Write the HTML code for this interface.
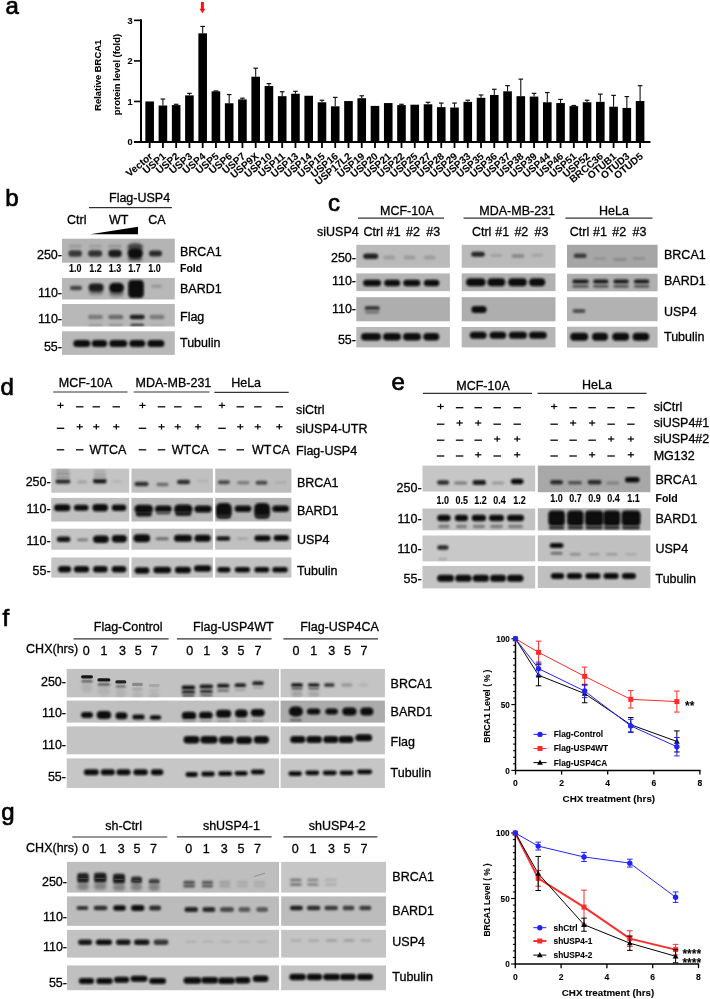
<!DOCTYPE html>
<html><head><meta charset="utf-8"><style>
html,body{margin:0;padding:0;background:#fff;width:710px;height:999px;overflow:hidden}
svg{display:block;will-change:transform}
text{font-family:"Liberation Sans", sans-serif;stroke:#000;stroke-width:0.3px}
text[font-weight="bold"]{stroke-width:0.08px}
</style></head><body>
<svg width="710" height="999" viewBox="0 0 710 999">
<defs><clipPath id="c0"><rect x="62.00" y="238.70" width="112.80" height="24.00"/></clipPath><clipPath id="c1"><rect x="62.00" y="278.00" width="112.80" height="21.50"/></clipPath><clipPath id="c2"><rect x="62.00" y="304.00" width="112.80" height="22.50"/></clipPath><clipPath id="c3"><rect x="62.00" y="331.30" width="112.80" height="23.60"/></clipPath><clipPath id="c4"><rect x="356.30" y="244.80" width="93.60" height="22.90"/></clipPath><clipPath id="c5"><rect x="356.30" y="273.40" width="93.60" height="17.70"/></clipPath><clipPath id="c6"><rect x="356.30" y="297.20" width="93.60" height="24.10"/></clipPath><clipPath id="c7"><rect x="356.30" y="327.00" width="93.60" height="20.40"/></clipPath><clipPath id="c8"><rect x="461.70" y="244.80" width="93.80" height="22.90"/></clipPath><clipPath id="c9"><rect x="461.70" y="273.40" width="93.80" height="17.70"/></clipPath><clipPath id="c10"><rect x="461.70" y="297.20" width="93.80" height="24.10"/></clipPath><clipPath id="c11"><rect x="461.70" y="327.00" width="93.80" height="20.40"/></clipPath><clipPath id="c12"><rect x="567.00" y="244.80" width="90.60" height="22.90"/></clipPath><clipPath id="c13"><rect x="567.00" y="273.80" width="90.60" height="17.50"/></clipPath><clipPath id="c14"><rect x="567.00" y="297.20" width="90.60" height="24.00"/></clipPath><clipPath id="c15"><rect x="567.00" y="326.70" width="90.60" height="20.90"/></clipPath><clipPath id="c16"><rect x="51.30" y="468.60" width="77.90" height="24.10"/></clipPath><clipPath id="c17"><rect x="131.50" y="468.60" width="81.40" height="24.10"/></clipPath><clipPath id="c18"><rect x="215.20" y="468.60" width="76.20" height="24.10"/></clipPath><clipPath id="c19"><rect x="51.30" y="497.90" width="77.90" height="23.60"/></clipPath><clipPath id="c20"><rect x="131.50" y="497.90" width="81.40" height="23.60"/></clipPath><clipPath id="c21"><rect x="215.20" y="497.90" width="76.20" height="23.60"/></clipPath><clipPath id="c22"><rect x="51.30" y="528.70" width="77.90" height="21.00"/></clipPath><clipPath id="c23"><rect x="131.50" y="528.70" width="81.40" height="21.00"/></clipPath><clipPath id="c24"><rect x="215.20" y="528.70" width="76.20" height="21.00"/></clipPath><clipPath id="c25"><rect x="51.30" y="557.40" width="77.90" height="20.20"/></clipPath><clipPath id="c26"><rect x="131.50" y="557.40" width="81.40" height="20.20"/></clipPath><clipPath id="c27"><rect x="215.20" y="557.40" width="76.20" height="20.20"/></clipPath><clipPath id="c28"><rect x="422.50" y="465.60" width="112.70" height="25.90"/></clipPath><clipPath id="c29"><rect x="537.80" y="465.60" width="112.60" height="26.60"/></clipPath><clipPath id="c30"><rect x="422.50" y="508.50" width="112.70" height="21.80"/></clipPath><clipPath id="c31"><rect x="537.80" y="508.20" width="112.60" height="22.30"/></clipPath><clipPath id="c32"><rect x="422.50" y="535.50" width="112.70" height="25.90"/></clipPath><clipPath id="c33"><rect x="537.80" y="535.30" width="112.60" height="26.10"/></clipPath><clipPath id="c34"><rect x="422.50" y="565.90" width="112.70" height="22.50"/></clipPath><clipPath id="c35"><rect x="537.80" y="566.00" width="112.60" height="22.00"/></clipPath><clipPath id="c36"><rect x="66.70" y="668.90" width="212.30" height="28.40"/></clipPath><clipPath id="c37"><rect x="280.60" y="668.90" width="104.30" height="28.40"/></clipPath><clipPath id="c38"><rect x="66.70" y="700.60" width="212.30" height="22.00"/></clipPath><clipPath id="c39"><rect x="280.60" y="700.60" width="104.30" height="22.00"/></clipPath><clipPath id="c40"><rect x="66.70" y="726.40" width="212.30" height="27.90"/></clipPath><clipPath id="c41"><rect x="280.60" y="726.40" width="104.30" height="27.90"/></clipPath><clipPath id="c42"><rect x="66.70" y="758.40" width="212.30" height="29.60"/></clipPath><clipPath id="c43"><rect x="280.60" y="758.40" width="104.30" height="29.60"/></clipPath><clipPath id="c44"><rect x="67.00" y="861.90" width="212.00" height="30.70"/></clipPath><clipPath id="c45"><rect x="281.20" y="861.90" width="104.80" height="30.70"/></clipPath><clipPath id="c46"><rect x="67.00" y="896.40" width="212.00" height="29.40"/></clipPath><clipPath id="c47"><rect x="281.20" y="896.40" width="104.80" height="29.40"/></clipPath><clipPath id="c48"><rect x="67.00" y="929.90" width="212.00" height="27.70"/></clipPath><clipPath id="c49"><rect x="281.20" y="929.90" width="104.80" height="27.70"/></clipPath><clipPath id="c50"><rect x="67.00" y="965.40" width="212.00" height="24.80"/></clipPath><clipPath id="c51"><rect x="281.20" y="965.40" width="104.80" height="24.80"/></clipPath><filter id="f7" x="-30%" y="-60%" width="160%" height="220%"><feGaussianBlur stdDeviation="0.7"/></filter><filter id="f8" x="-30%" y="-60%" width="160%" height="220%"><feGaussianBlur stdDeviation="0.8"/></filter><filter id="f9" x="-30%" y="-60%" width="160%" height="220%"><feGaussianBlur stdDeviation="0.9"/></filter><filter id="f10" x="-30%" y="-60%" width="160%" height="220%"><feGaussianBlur stdDeviation="1.0"/></filter><filter id="f11" x="-30%" y="-60%" width="160%" height="220%"><feGaussianBlur stdDeviation="1.1"/></filter><filter id="f12" x="-30%" y="-60%" width="160%" height="220%"><feGaussianBlur stdDeviation="1.2"/></filter><filter id="f13" x="-30%" y="-60%" width="160%" height="220%"><feGaussianBlur stdDeviation="1.3"/></filter><filter id="f14" x="-30%" y="-60%" width="160%" height="220%"><feGaussianBlur stdDeviation="1.4"/></filter><filter id="f15" x="-30%" y="-60%" width="160%" height="220%"><feGaussianBlur stdDeviation="1.5"/></filter><filter id="f16" x="-30%" y="-60%" width="160%" height="220%"><feGaussianBlur stdDeviation="1.6"/></filter></defs>
<rect width="710" height="999" fill="#fff"/>
<text x="5.6" y="14.2" font-size="24" fill="#000" style="stroke-width:0.7px">a</text>
<text x="5.2" y="206.0" font-size="24" fill="#000" style="stroke-width:0.7px">b</text>
<text x="328.1" y="210.5" font-size="24" fill="#000" style="stroke-width:0.7px">c</text>
<text x="0.6" y="394.8" font-size="24" fill="#000" style="stroke-width:0.7px">d</text>
<text x="391.4" y="390.3" font-size="24" fill="#000" style="stroke-width:0.7px">e</text>
<text x="2.4" y="626.2" font-size="24" fill="#000" style="stroke-width:0.7px">f</text>
<text x="1.2" y="819.8" font-size="24" fill="#000" style="stroke-width:0.7px">g</text>
<line x1="141.00" y1="19.30" x2="141.00" y2="143.00" stroke="#000" stroke-width="2"/>
<line x1="134.00" y1="142.00" x2="650.50" y2="142.00" stroke="#000" stroke-width="2"/>
<line x1="134.00" y1="142.00" x2="141.00" y2="142.00" stroke="#000" stroke-width="1.6"/>
<text x="132.60" y="145.31" font-size="9.2" font-weight="bold" text-anchor="end" fill="#000">0</text>
<line x1="134.00" y1="101.45" x2="141.00" y2="101.45" stroke="#000" stroke-width="1.6"/>
<text x="132.60" y="104.76" font-size="9.2" font-weight="bold" text-anchor="end" fill="#000">1</text>
<line x1="134.00" y1="60.90" x2="141.00" y2="60.90" stroke="#000" stroke-width="1.6"/>
<text x="132.60" y="64.21" font-size="9.2" font-weight="bold" text-anchor="end" fill="#000">2</text>
<line x1="134.00" y1="20.35" x2="141.00" y2="20.35" stroke="#000" stroke-width="1.6"/>
<text x="132.60" y="23.66" font-size="9.2" font-weight="bold" text-anchor="end" fill="#000">3</text>
<rect x="145.35" y="101.45" width="8.60" height="40.55" fill="#000"/>
<line x1="149.65" y1="142.00" x2="149.65" y2="148.00" stroke="#000" stroke-width="1.8"/>
<text x="0" y="0" font-size="10.1" font-weight="bold" text-anchor="end" transform="translate(153.25,157.40) rotate(-40)">Vector</text>
<rect x="158.60" y="105.50" width="8.60" height="36.50" fill="#000"/>
<line x1="162.91" y1="99.02" x2="162.91" y2="105.50" stroke="#111" stroke-width="1.1"/>
<line x1="160.60" y1="99.02" x2="165.21" y2="99.02" stroke="#111" stroke-width="1.2"/>
<line x1="162.91" y1="142.00" x2="162.91" y2="148.00" stroke="#000" stroke-width="1.8"/>
<text x="0" y="0" font-size="10.1" font-weight="bold" text-anchor="end" transform="translate(166.50,157.40) rotate(-40)">USP1</text>
<rect x="171.86" y="105.10" width="8.60" height="36.90" fill="#000"/>
<line x1="176.16" y1="104.29" x2="176.16" y2="105.10" stroke="#111" stroke-width="1.1"/>
<line x1="173.86" y1="104.29" x2="178.46" y2="104.29" stroke="#111" stroke-width="1.2"/>
<line x1="176.16" y1="142.00" x2="176.16" y2="148.00" stroke="#000" stroke-width="1.8"/>
<text x="0" y="0" font-size="10.1" font-weight="bold" text-anchor="end" transform="translate(179.76,157.40) rotate(-40)">USP2</text>
<rect x="185.12" y="95.37" width="8.60" height="46.63" fill="#000"/>
<line x1="189.42" y1="93.34" x2="189.42" y2="95.37" stroke="#111" stroke-width="1.1"/>
<line x1="187.12" y1="93.34" x2="191.72" y2="93.34" stroke="#111" stroke-width="1.2"/>
<line x1="189.42" y1="142.00" x2="189.42" y2="148.00" stroke="#000" stroke-width="1.8"/>
<text x="0" y="0" font-size="10.1" font-weight="bold" text-anchor="end" transform="translate(193.02,157.40) rotate(-40)">USP3</text>
<rect x="198.37" y="33.33" width="8.60" height="108.67" fill="#000"/>
<line x1="202.67" y1="26.43" x2="202.67" y2="33.33" stroke="#111" stroke-width="1.1"/>
<line x1="200.37" y1="26.43" x2="204.97" y2="26.43" stroke="#111" stroke-width="1.2"/>
<line x1="202.67" y1="142.00" x2="202.67" y2="148.00" stroke="#000" stroke-width="1.8"/>
<text x="0" y="0" font-size="10.1" font-weight="bold" text-anchor="end" transform="translate(206.27,157.40) rotate(-40)">USP4</text>
<rect x="211.62" y="91.31" width="8.60" height="50.69" fill="#000"/>
<line x1="215.93" y1="90.91" x2="215.93" y2="91.31" stroke="#111" stroke-width="1.1"/>
<line x1="213.62" y1="90.91" x2="218.23" y2="90.91" stroke="#111" stroke-width="1.2"/>
<line x1="215.93" y1="142.00" x2="215.93" y2="148.00" stroke="#000" stroke-width="1.8"/>
<text x="0" y="0" font-size="10.1" font-weight="bold" text-anchor="end" transform="translate(219.53,157.40) rotate(-40)">USP5</text>
<rect x="224.88" y="103.27" width="8.60" height="38.73" fill="#000"/>
<line x1="229.18" y1="94.56" x2="229.18" y2="103.27" stroke="#111" stroke-width="1.1"/>
<line x1="226.88" y1="94.56" x2="231.48" y2="94.56" stroke="#111" stroke-width="1.2"/>
<line x1="229.18" y1="142.00" x2="229.18" y2="148.00" stroke="#000" stroke-width="1.8"/>
<text x="0" y="0" font-size="10.1" font-weight="bold" text-anchor="end" transform="translate(232.78,157.40) rotate(-40)">USP6</text>
<rect x="238.13" y="99.42" width="8.60" height="42.58" fill="#000"/>
<line x1="242.44" y1="98.21" x2="242.44" y2="99.42" stroke="#111" stroke-width="1.1"/>
<line x1="240.13" y1="98.21" x2="244.74" y2="98.21" stroke="#111" stroke-width="1.2"/>
<line x1="242.44" y1="142.00" x2="242.44" y2="148.00" stroke="#000" stroke-width="1.8"/>
<text x="0" y="0" font-size="10.1" font-weight="bold" text-anchor="end" transform="translate(246.03,157.40) rotate(-40)">USP7</text>
<rect x="251.39" y="76.71" width="8.60" height="65.29" fill="#000"/>
<line x1="255.69" y1="68.20" x2="255.69" y2="76.71" stroke="#111" stroke-width="1.1"/>
<line x1="253.39" y1="68.20" x2="257.99" y2="68.20" stroke="#111" stroke-width="1.2"/>
<line x1="255.69" y1="142.00" x2="255.69" y2="148.00" stroke="#000" stroke-width="1.8"/>
<text x="0" y="0" font-size="10.1" font-weight="bold" text-anchor="end" transform="translate(259.29,157.40) rotate(-40)">USP9X</text>
<rect x="264.64" y="86.04" width="8.60" height="55.96" fill="#000"/>
<line x1="268.94" y1="83.61" x2="268.94" y2="86.04" stroke="#111" stroke-width="1.1"/>
<line x1="266.64" y1="83.61" x2="271.25" y2="83.61" stroke="#111" stroke-width="1.2"/>
<line x1="268.94" y1="142.00" x2="268.94" y2="148.00" stroke="#000" stroke-width="1.8"/>
<text x="0" y="0" font-size="10.1" font-weight="bold" text-anchor="end" transform="translate(272.55,157.40) rotate(-40)">USP10</text>
<rect x="277.90" y="96.18" width="8.60" height="45.82" fill="#000"/>
<line x1="282.20" y1="91.72" x2="282.20" y2="96.18" stroke="#111" stroke-width="1.1"/>
<line x1="279.90" y1="91.72" x2="284.50" y2="91.72" stroke="#111" stroke-width="1.2"/>
<line x1="282.20" y1="142.00" x2="282.20" y2="148.00" stroke="#000" stroke-width="1.8"/>
<text x="0" y="0" font-size="10.1" font-weight="bold" text-anchor="end" transform="translate(285.80,157.40) rotate(-40)">USP11</text>
<rect x="291.16" y="93.75" width="8.60" height="48.25" fill="#000"/>
<line x1="295.46" y1="91.31" x2="295.46" y2="93.75" stroke="#111" stroke-width="1.1"/>
<line x1="293.16" y1="91.31" x2="297.76" y2="91.31" stroke="#111" stroke-width="1.2"/>
<line x1="295.46" y1="142.00" x2="295.46" y2="148.00" stroke="#000" stroke-width="1.8"/>
<text x="0" y="0" font-size="10.1" font-weight="bold" text-anchor="end" transform="translate(299.06,157.40) rotate(-40)">USP13</text>
<rect x="304.41" y="95.77" width="8.60" height="46.23" fill="#000"/>
<line x1="308.71" y1="142.00" x2="308.71" y2="148.00" stroke="#000" stroke-width="1.8"/>
<text x="0" y="0" font-size="10.1" font-weight="bold" text-anchor="end" transform="translate(312.31,157.40) rotate(-40)">USP14</text>
<rect x="317.67" y="102.26" width="8.60" height="39.74" fill="#000"/>
<line x1="321.97" y1="100.23" x2="321.97" y2="102.26" stroke="#111" stroke-width="1.1"/>
<line x1="319.67" y1="100.23" x2="324.27" y2="100.23" stroke="#111" stroke-width="1.2"/>
<line x1="321.97" y1="142.00" x2="321.97" y2="148.00" stroke="#000" stroke-width="1.8"/>
<text x="0" y="0" font-size="10.1" font-weight="bold" text-anchor="end" transform="translate(325.57,157.40) rotate(-40)">USP15</text>
<rect x="330.92" y="106.32" width="8.60" height="35.68" fill="#000"/>
<line x1="335.22" y1="97.39" x2="335.22" y2="106.32" stroke="#111" stroke-width="1.1"/>
<line x1="332.92" y1="97.39" x2="337.52" y2="97.39" stroke="#111" stroke-width="1.2"/>
<line x1="335.22" y1="142.00" x2="335.22" y2="148.00" stroke="#000" stroke-width="1.8"/>
<text x="0" y="0" font-size="10.1" font-weight="bold" text-anchor="end" transform="translate(338.82,157.40) rotate(-40)">USP16</text>
<rect x="344.18" y="101.04" width="8.60" height="40.96" fill="#000"/>
<line x1="348.48" y1="142.00" x2="348.48" y2="148.00" stroke="#000" stroke-width="1.8"/>
<text x="0" y="0" font-size="10.1" font-weight="bold" text-anchor="end" transform="translate(352.08,157.40) rotate(-40)">USP17L2</text>
<rect x="357.43" y="98.21" width="8.60" height="43.79" fill="#000"/>
<line x1="361.73" y1="95.77" x2="361.73" y2="98.21" stroke="#111" stroke-width="1.1"/>
<line x1="359.43" y1="95.77" x2="364.03" y2="95.77" stroke="#111" stroke-width="1.2"/>
<line x1="361.73" y1="142.00" x2="361.73" y2="148.00" stroke="#000" stroke-width="1.8"/>
<text x="0" y="0" font-size="10.1" font-weight="bold" text-anchor="end" transform="translate(365.33,157.40) rotate(-40)">USP19</text>
<rect x="370.69" y="105.91" width="8.60" height="36.09" fill="#000"/>
<line x1="374.99" y1="142.00" x2="374.99" y2="148.00" stroke="#000" stroke-width="1.8"/>
<text x="0" y="0" font-size="10.1" font-weight="bold" text-anchor="end" transform="translate(378.59,157.40) rotate(-40)">USP20</text>
<rect x="383.94" y="103.07" width="8.60" height="38.93" fill="#000"/>
<line x1="388.24" y1="142.00" x2="388.24" y2="148.00" stroke="#000" stroke-width="1.8"/>
<text x="0" y="0" font-size="10.1" font-weight="bold" text-anchor="end" transform="translate(391.84,157.40) rotate(-40)">USP21</text>
<rect x="397.19" y="105.10" width="8.60" height="36.90" fill="#000"/>
<line x1="401.50" y1="104.29" x2="401.50" y2="105.10" stroke="#111" stroke-width="1.1"/>
<line x1="399.19" y1="104.29" x2="403.80" y2="104.29" stroke="#111" stroke-width="1.2"/>
<line x1="401.50" y1="142.00" x2="401.50" y2="148.00" stroke="#000" stroke-width="1.8"/>
<text x="0" y="0" font-size="10.1" font-weight="bold" text-anchor="end" transform="translate(405.10,157.40) rotate(-40)">USP22</text>
<rect x="410.45" y="104.69" width="8.60" height="37.31" fill="#000"/>
<line x1="414.75" y1="142.00" x2="414.75" y2="148.00" stroke="#000" stroke-width="1.8"/>
<text x="0" y="0" font-size="10.1" font-weight="bold" text-anchor="end" transform="translate(418.35,157.40) rotate(-40)">USP25</text>
<rect x="423.70" y="104.29" width="8.60" height="37.71" fill="#000"/>
<line x1="428.00" y1="102.26" x2="428.00" y2="104.29" stroke="#111" stroke-width="1.1"/>
<line x1="425.70" y1="102.26" x2="430.31" y2="102.26" stroke="#111" stroke-width="1.2"/>
<line x1="428.00" y1="142.00" x2="428.00" y2="148.00" stroke="#000" stroke-width="1.8"/>
<text x="0" y="0" font-size="10.1" font-weight="bold" text-anchor="end" transform="translate(431.61,157.40) rotate(-40)">USP27</text>
<rect x="436.96" y="107.13" width="8.60" height="34.87" fill="#000"/>
<line x1="441.26" y1="103.07" x2="441.26" y2="107.13" stroke="#111" stroke-width="1.1"/>
<line x1="438.96" y1="103.07" x2="443.56" y2="103.07" stroke="#111" stroke-width="1.2"/>
<line x1="441.26" y1="142.00" x2="441.26" y2="148.00" stroke="#000" stroke-width="1.8"/>
<text x="0" y="0" font-size="10.1" font-weight="bold" text-anchor="end" transform="translate(444.86,157.40) rotate(-40)">USP28</text>
<rect x="450.21" y="107.53" width="8.60" height="34.47" fill="#000"/>
<line x1="454.51" y1="103.07" x2="454.51" y2="107.53" stroke="#111" stroke-width="1.1"/>
<line x1="452.21" y1="103.07" x2="456.81" y2="103.07" stroke="#111" stroke-width="1.2"/>
<line x1="454.51" y1="142.00" x2="454.51" y2="148.00" stroke="#000" stroke-width="1.8"/>
<text x="0" y="0" font-size="10.1" font-weight="bold" text-anchor="end" transform="translate(458.12,157.40) rotate(-40)">USP29</text>
<rect x="463.47" y="101.86" width="8.60" height="40.14" fill="#000"/>
<line x1="467.77" y1="100.23" x2="467.77" y2="101.86" stroke="#111" stroke-width="1.1"/>
<line x1="465.47" y1="100.23" x2="470.07" y2="100.23" stroke="#111" stroke-width="1.2"/>
<line x1="467.77" y1="142.00" x2="467.77" y2="148.00" stroke="#000" stroke-width="1.8"/>
<text x="0" y="0" font-size="10.1" font-weight="bold" text-anchor="end" transform="translate(471.37,157.40) rotate(-40)">USP33</text>
<rect x="476.72" y="97.80" width="8.60" height="44.20" fill="#000"/>
<line x1="481.02" y1="94.96" x2="481.02" y2="97.80" stroke="#111" stroke-width="1.1"/>
<line x1="478.72" y1="94.96" x2="483.32" y2="94.96" stroke="#111" stroke-width="1.2"/>
<line x1="481.02" y1="142.00" x2="481.02" y2="148.00" stroke="#000" stroke-width="1.8"/>
<text x="0" y="0" font-size="10.1" font-weight="bold" text-anchor="end" transform="translate(484.62,157.40) rotate(-40)">USP35</text>
<rect x="489.98" y="94.96" width="8.60" height="47.04" fill="#000"/>
<line x1="494.28" y1="89.28" x2="494.28" y2="94.96" stroke="#111" stroke-width="1.1"/>
<line x1="491.98" y1="89.28" x2="496.58" y2="89.28" stroke="#111" stroke-width="1.2"/>
<line x1="494.28" y1="142.00" x2="494.28" y2="148.00" stroke="#000" stroke-width="1.8"/>
<text x="0" y="0" font-size="10.1" font-weight="bold" text-anchor="end" transform="translate(497.88,157.40) rotate(-40)">USP36</text>
<rect x="503.24" y="91.31" width="8.60" height="50.69" fill="#000"/>
<line x1="507.54" y1="85.64" x2="507.54" y2="91.31" stroke="#111" stroke-width="1.1"/>
<line x1="505.24" y1="85.64" x2="509.84" y2="85.64" stroke="#111" stroke-width="1.2"/>
<line x1="507.54" y1="142.00" x2="507.54" y2="148.00" stroke="#000" stroke-width="1.8"/>
<text x="0" y="0" font-size="10.1" font-weight="bold" text-anchor="end" transform="translate(511.14,157.40) rotate(-40)">USP37</text>
<rect x="516.49" y="96.18" width="8.60" height="45.82" fill="#000"/>
<line x1="520.79" y1="79.15" x2="520.79" y2="96.18" stroke="#111" stroke-width="1.1"/>
<line x1="518.49" y1="79.15" x2="523.09" y2="79.15" stroke="#111" stroke-width="1.2"/>
<line x1="520.79" y1="142.00" x2="520.79" y2="148.00" stroke="#000" stroke-width="1.8"/>
<text x="0" y="0" font-size="10.1" font-weight="bold" text-anchor="end" transform="translate(524.39,157.40) rotate(-40)">USP38</text>
<rect x="529.75" y="96.58" width="8.60" height="45.42" fill="#000"/>
<line x1="534.05" y1="93.34" x2="534.05" y2="96.58" stroke="#111" stroke-width="1.1"/>
<line x1="531.75" y1="93.34" x2="536.35" y2="93.34" stroke="#111" stroke-width="1.2"/>
<line x1="534.05" y1="142.00" x2="534.05" y2="148.00" stroke="#000" stroke-width="1.8"/>
<text x="0" y="0" font-size="10.1" font-weight="bold" text-anchor="end" transform="translate(537.65,157.40) rotate(-40)">USP39</text>
<rect x="543.00" y="102.26" width="8.60" height="39.74" fill="#000"/>
<line x1="547.30" y1="92.53" x2="547.30" y2="102.26" stroke="#111" stroke-width="1.1"/>
<line x1="545.00" y1="92.53" x2="549.60" y2="92.53" stroke="#111" stroke-width="1.2"/>
<line x1="547.30" y1="142.00" x2="547.30" y2="148.00" stroke="#000" stroke-width="1.8"/>
<text x="0" y="0" font-size="10.1" font-weight="bold" text-anchor="end" transform="translate(550.90,157.40) rotate(-40)">USP44</text>
<rect x="556.26" y="103.07" width="8.60" height="38.93" fill="#000"/>
<line x1="560.56" y1="99.42" x2="560.56" y2="103.07" stroke="#111" stroke-width="1.1"/>
<line x1="558.26" y1="99.42" x2="562.86" y2="99.42" stroke="#111" stroke-width="1.2"/>
<line x1="560.56" y1="142.00" x2="560.56" y2="148.00" stroke="#000" stroke-width="1.8"/>
<text x="0" y="0" font-size="10.1" font-weight="bold" text-anchor="end" transform="translate(564.16,157.40) rotate(-40)">USP46</text>
<rect x="569.51" y="106.11" width="8.60" height="35.89" fill="#000"/>
<line x1="573.81" y1="105.50" x2="573.81" y2="106.11" stroke="#111" stroke-width="1.1"/>
<line x1="571.51" y1="105.50" x2="576.11" y2="105.50" stroke="#111" stroke-width="1.2"/>
<line x1="573.81" y1="142.00" x2="573.81" y2="148.00" stroke="#000" stroke-width="1.8"/>
<text x="0" y="0" font-size="10.1" font-weight="bold" text-anchor="end" transform="translate(577.41,157.40) rotate(-40)">USP51</text>
<rect x="582.77" y="102.26" width="8.60" height="39.74" fill="#000"/>
<line x1="587.07" y1="100.23" x2="587.07" y2="102.26" stroke="#111" stroke-width="1.1"/>
<line x1="584.77" y1="100.23" x2="589.37" y2="100.23" stroke="#111" stroke-width="1.2"/>
<line x1="587.07" y1="142.00" x2="587.07" y2="148.00" stroke="#000" stroke-width="1.8"/>
<text x="0" y="0" font-size="10.1" font-weight="bold" text-anchor="end" transform="translate(590.67,157.40) rotate(-40)">USP52</text>
<rect x="596.02" y="101.86" width="8.60" height="40.14" fill="#000"/>
<line x1="600.32" y1="94.15" x2="600.32" y2="101.86" stroke="#111" stroke-width="1.1"/>
<line x1="598.02" y1="94.15" x2="602.62" y2="94.15" stroke="#111" stroke-width="1.2"/>
<line x1="600.32" y1="142.00" x2="600.32" y2="148.00" stroke="#000" stroke-width="1.8"/>
<text x="0" y="0" font-size="10.1" font-weight="bold" text-anchor="end" transform="translate(603.92,157.40) rotate(-40)">BRCC36</text>
<rect x="609.28" y="106.72" width="8.60" height="35.28" fill="#000"/>
<line x1="613.58" y1="95.37" x2="613.58" y2="106.72" stroke="#111" stroke-width="1.1"/>
<line x1="611.28" y1="95.37" x2="615.88" y2="95.37" stroke="#111" stroke-width="1.2"/>
<line x1="613.58" y1="142.00" x2="613.58" y2="148.00" stroke="#000" stroke-width="1.8"/>
<text x="0" y="0" font-size="10.1" font-weight="bold" text-anchor="end" transform="translate(617.18,157.40) rotate(-40)">OTUB1</text>
<rect x="622.53" y="107.94" width="8.60" height="34.06" fill="#000"/>
<line x1="626.83" y1="96.58" x2="626.83" y2="107.94" stroke="#111" stroke-width="1.1"/>
<line x1="624.53" y1="96.58" x2="629.13" y2="96.58" stroke="#111" stroke-width="1.2"/>
<line x1="626.83" y1="142.00" x2="626.83" y2="148.00" stroke="#000" stroke-width="1.8"/>
<text x="0" y="0" font-size="10.1" font-weight="bold" text-anchor="end" transform="translate(630.43,157.40) rotate(-40)">OTUD3</text>
<rect x="635.79" y="101.04" width="8.60" height="40.96" fill="#000"/>
<line x1="640.09" y1="85.64" x2="640.09" y2="101.04" stroke="#111" stroke-width="1.1"/>
<line x1="637.79" y1="85.64" x2="642.38" y2="85.64" stroke="#111" stroke-width="1.2"/>
<line x1="640.09" y1="142.00" x2="640.09" y2="148.00" stroke="#000" stroke-width="1.8"/>
<text x="0" y="0" font-size="10.1" font-weight="bold" text-anchor="end" transform="translate(643.69,157.40) rotate(-40)">OTUD5</text>
<text x="0" y="0" font-size="9.4" font-weight="bold" text-anchor="middle" transform="translate(101.40,75.30) rotate(-90)">Relative BRCA1</text>
<text x="0" y="0" font-size="9.4" font-weight="bold" text-anchor="middle" transform="translate(120.40,74.60) rotate(-90)">protein level (fold)</text>
<path d="M200.9,2 L203.9,2 L203.9,8.7 L205.3,8.7 L202.4,13.2 L199.5,8.7 L200.9,8.7 Z" fill="#ff1010"/>
<text x="109.00" y="202.30" font-size="12.5" text-anchor="start" fill="#000">Flag-USP4</text>
<line x1="89.00" y1="207.70" x2="172.00" y2="207.70" stroke="#000" stroke-width="1"/>
<text x="67.00" y="224.30" font-size="12.5" text-anchor="start" fill="#000">Ctrl</text>
<text x="109.00" y="224.30" font-size="12.5" text-anchor="start" fill="#000">WT</text>
<text x="148.30" y="224.30" font-size="12.5" text-anchor="start" fill="#000">CA</text>
<path d="M90.3,234.2 L138,226.8 L138,234.2 Z" fill="#000"/>
<rect x="62.00" y="238.70" width="112.80" height="24.00" fill="#b4b4b4"/>
<rect x="62.00" y="278.00" width="112.80" height="21.50" fill="#b8b8b8"/>
<rect x="62.00" y="304.00" width="112.80" height="22.50" fill="#b8b8b8"/>
<rect x="62.00" y="331.30" width="112.80" height="23.60" fill="#b8b8b8"/>
<rect x="68.70" y="244.55" width="13.00" height="3.50" rx="1.75" fill="#9c9c9c" filter="url(#f11)" clip-path="url(#c0)"/>
<rect x="89.00" y="244.55" width="13.00" height="3.50" rx="1.75" fill="#a0a0a0" filter="url(#f11)" clip-path="url(#c0)"/>
<rect x="107.90" y="244.55" width="14.00" height="3.50" rx="1.75" fill="#9a9a9a" filter="url(#f11)" clip-path="url(#c0)"/>
<rect x="127.70" y="244.55" width="15.00" height="3.50" rx="1.75" fill="#6a6a6a" filter="url(#f11)" clip-path="url(#c0)"/>
<rect x="127.70" y="243.00" width="15.00" height="12.00" rx="6.00" fill="#333" filter="url(#f16)" opacity="0.7" clip-path="url(#c0)"/>
<rect x="128.20" y="256.50" width="14.00" height="5.00" rx="2.50" fill="#444" filter="url(#f14)" opacity="0.7" clip-path="url(#c0)"/>
<rect x="68.45" y="250.35" width="13.50" height="6.50" rx="3.25" fill="#383838" filter="url(#f11)" clip-path="url(#c0)"/>
<rect x="88.10" y="250.35" width="14.00" height="6.50" rx="3.25" fill="#303030" filter="url(#f11)" clip-path="url(#c0)"/>
<rect x="108.25" y="249.85" width="13.50" height="7.50" rx="3.75" fill="#1e1e1e" filter="url(#f11)" clip-path="url(#c0)"/>
<rect x="127.70" y="248.60" width="15.00" height="10.00" rx="5.00" fill="#0a0a0a" filter="url(#f11)" clip-path="url(#c0)"/>
<rect x="149.00" y="250.60" width="13.00" height="6.00" rx="3.00" fill="#2c2c2c" filter="url(#f11)" clip-path="url(#c0)"/>
<text x="0" y="0" font-size="10.2" font-weight="bold" text-anchor="middle" transform="translate(75.20,271.87) scale(0.88,1)">1.0</text>
<text x="0" y="0" font-size="10.2" font-weight="bold" text-anchor="middle" transform="translate(95.50,271.87) scale(0.88,1)">1.2</text>
<text x="0" y="0" font-size="10.2" font-weight="bold" text-anchor="middle" transform="translate(114.90,271.87) scale(0.88,1)">1.3</text>
<text x="0" y="0" font-size="10.2" font-weight="bold" text-anchor="middle" transform="translate(134.40,271.87) scale(0.88,1)">1.7</text>
<text x="0" y="0" font-size="10.2" font-weight="bold" text-anchor="middle" transform="translate(154.60,271.87) scale(0.88,1)">1.0</text>
<text x="180.00" y="271.98" font-size="10.5" font-weight="bold" text-anchor="start" fill="#000">Fold</text>
<rect x="89.10" y="289.00" width="14.00" height="6.00" rx="3.00" fill="#555" filter="url(#f15)" opacity="0.6" clip-path="url(#c1)"/>
<rect x="109.50" y="289.50" width="14.00" height="7.00" rx="3.50" fill="#444" filter="url(#f16)" opacity="0.6" clip-path="url(#c1)"/>
<rect x="70.00" y="285.75" width="12.00" height="4.50" rx="2.25" fill="#444" filter="url(#f11)" clip-path="url(#c1)"/>
<rect x="88.60" y="283.50" width="15.00" height="8.00" rx="4.00" fill="#1a1a1a" filter="url(#f12)" clip-path="url(#c1)"/>
<rect x="109.00" y="282.80" width="15.00" height="10.00" rx="5.00" fill="#111" filter="url(#f12)" clip-path="url(#c1)"/>
<rect x="128.25" y="280.00" width="15.50" height="18.00" rx="4.00" fill="#080808" filter="url(#f13)" clip-path="url(#c1)"/>
<rect x="151.20" y="284.55" width="11.00" height="3.50" rx="1.75" fill="#9a9a9a" filter="url(#f11)" clip-path="url(#c1)"/>
<rect x="88.00" y="314.65" width="15.00" height="4.50" rx="2.25" fill="#7a7a7a" filter="url(#f10)" clip-path="url(#c2)"/>
<rect x="108.30" y="314.65" width="15.00" height="4.50" rx="2.25" fill="#6a6a6a" filter="url(#f10)" clip-path="url(#c2)"/>
<rect x="129.70" y="314.65" width="15.00" height="4.50" rx="2.25" fill="#1e1e1e" filter="url(#f10)" clip-path="url(#c2)"/>
<rect x="149.50" y="314.65" width="15.00" height="4.50" rx="2.25" fill="#7a7a7a" filter="url(#f10)" clip-path="url(#c2)"/>
<rect x="88.50" y="323.50" width="14.00" height="3.00" rx="1.50" fill="#a0a0a0" filter="url(#f10)" clip-path="url(#c2)"/>
<rect x="108.80" y="323.50" width="14.00" height="3.00" rx="1.50" fill="#9a9a9a" filter="url(#f10)" clip-path="url(#c2)"/>
<rect x="130.20" y="323.50" width="14.00" height="3.00" rx="1.50" fill="#4a4a4a" filter="url(#f10)" clip-path="url(#c2)"/>
<rect x="150.00" y="323.50" width="14.00" height="3.00" rx="1.50" fill="#b0b0b0" filter="url(#f10)" clip-path="url(#c2)"/>
<rect x="73.30" y="340.10" width="17.00" height="7.00" rx="3.50" fill="#0d0d0d" filter="url(#f9)" clip-path="url(#c3)"/>
<rect x="91.65" y="340.10" width="15.50" height="7.00" rx="3.50" fill="#0d0d0d" filter="url(#f9)" clip-path="url(#c3)"/>
<rect x="109.30" y="340.10" width="18.00" height="7.00" rx="3.50" fill="#0d0d0d" filter="url(#f9)" clip-path="url(#c3)"/>
<rect x="129.30" y="340.10" width="16.00" height="7.00" rx="3.50" fill="#0d0d0d" filter="url(#f9)" clip-path="url(#c3)"/>
<rect x="147.40" y="340.10" width="17.00" height="7.00" rx="3.50" fill="#0d0d0d" filter="url(#f9)" clip-path="url(#c3)"/>
<text x="62.00" y="259.10" font-size="12.5" text-anchor="end" fill="#000">250-</text>
<text x="62.00" y="296.50" font-size="12.5" text-anchor="end" fill="#000">110-</text>
<text x="62.00" y="323.20" font-size="12.5" text-anchor="end" fill="#000">110-</text>
<text x="62.00" y="350.70" font-size="12.5" text-anchor="end" fill="#000">55-</text>
<text x="180.00" y="256.10" font-size="12.5" text-anchor="start" fill="#000">BRCA1</text>
<text x="180.00" y="292.80" font-size="12.5" text-anchor="start" fill="#000">BARD1</text>
<text x="180.00" y="321.40" font-size="12.5" text-anchor="start" fill="#000">Flag</text>
<text x="180.00" y="347.00" font-size="12.5" text-anchor="start" fill="#000">Tubulin</text>
<text x="380.00" y="214.80" font-size="12.5" text-anchor="start" fill="#000">MCF-10A</text>
<line x1="358.00" y1="218.20" x2="444.00" y2="218.20" stroke="#333" stroke-width="1.2"/>
<text x="479.30" y="214.80" font-size="12.5" text-anchor="start" fill="#000">MDA-MB-231</text>
<line x1="463.50" y1="218.20" x2="550.30" y2="218.20" stroke="#333" stroke-width="1.2"/>
<text x="599.00" y="214.80" font-size="12.5" text-anchor="start" fill="#000">HeLa</text>
<line x1="565.40" y1="218.20" x2="652.50" y2="218.20" stroke="#333" stroke-width="1.2"/>
<text x="317.00" y="236.20" font-size="12.5" text-anchor="start" fill="#000">siUSP4</text>
<text x="363.50" y="236.20" font-size="12.5" text-anchor="start" fill="#000">Ctrl</text>
<text x="386.80" y="236.20" font-size="12.5" text-anchor="start" fill="#000">#1</text>
<text x="406.00" y="236.20" font-size="12.5" text-anchor="start" fill="#000">#2</text>
<text x="426.20" y="236.20" font-size="12.5" text-anchor="start" fill="#000">#3</text>
<text x="471.90" y="236.20" font-size="12.5" text-anchor="start" fill="#000">Ctrl</text>
<text x="495.20" y="236.20" font-size="12.5" text-anchor="start" fill="#000">#1</text>
<text x="514.40" y="236.20" font-size="12.5" text-anchor="start" fill="#000">#2</text>
<text x="534.60" y="236.20" font-size="12.5" text-anchor="start" fill="#000">#3</text>
<text x="569.80" y="236.20" font-size="12.5" text-anchor="start" fill="#000">Ctrl</text>
<text x="593.10" y="236.20" font-size="12.5" text-anchor="start" fill="#000">#1</text>
<text x="612.30" y="236.20" font-size="12.5" text-anchor="start" fill="#000">#2</text>
<text x="632.50" y="236.20" font-size="12.5" text-anchor="start" fill="#000">#3</text>
<rect x="356.30" y="244.80" width="93.60" height="22.90" fill="#bababa"/>
<rect x="356.30" y="273.40" width="93.60" height="17.70" fill="#b6b6b6"/>
<rect x="356.30" y="297.20" width="93.60" height="24.10" fill="#aeaeae"/>
<rect x="356.30" y="327.00" width="93.60" height="20.40" fill="#b8b8b8"/>
<rect x="363.20" y="253.55" width="15.00" height="5.50" rx="2.75" fill="#222" filter="url(#f10)" clip-path="url(#c4)"/>
<rect x="383.20" y="255.50" width="12.00" height="4.00" rx="2.00" fill="#9c9c9c" filter="url(#f11)" clip-path="url(#c4)"/>
<rect x="403.50" y="255.50" width="12.00" height="4.00" rx="2.00" fill="#9c9c9c" filter="url(#f11)" clip-path="url(#c4)"/>
<rect x="423.60" y="255.50" width="12.00" height="4.00" rx="2.00" fill="#9c9c9c" filter="url(#f11)" clip-path="url(#c4)"/>
<rect x="363.10" y="279.65" width="18.00" height="6.50" rx="3.25" fill="#0a0a0a" filter="url(#f9)" clip-path="url(#c5)"/>
<rect x="384.20" y="279.65" width="16.00" height="6.50" rx="3.25" fill="#0a0a0a" filter="url(#f9)" clip-path="url(#c5)"/>
<rect x="403.30" y="279.65" width="17.00" height="6.50" rx="3.25" fill="#0a0a0a" filter="url(#f9)" clip-path="url(#c5)"/>
<rect x="423.85" y="279.65" width="15.50" height="6.50" rx="3.25" fill="#0a0a0a" filter="url(#f9)" clip-path="url(#c5)"/>
<rect x="364.70" y="306.05" width="15.00" height="4.50" rx="2.25" fill="#3a3a3a" filter="url(#f10)" clip-path="url(#c6)"/>
<rect x="365.20" y="310.25" width="14.00" height="3.50" rx="1.75" fill="#777" filter="url(#f10)" clip-path="url(#c6)"/>
<rect x="361.00" y="332.95" width="20.00" height="7.50" rx="3.75" fill="#0a0a0a" filter="url(#f9)" clip-path="url(#c7)"/>
<rect x="383.00" y="332.95" width="18.00" height="7.50" rx="3.75" fill="#0a0a0a" filter="url(#f9)" clip-path="url(#c7)"/>
<rect x="403.00" y="332.95" width="18.00" height="7.50" rx="3.75" fill="#0a0a0a" filter="url(#f9)" clip-path="url(#c7)"/>
<rect x="423.30" y="332.95" width="16.00" height="7.50" rx="3.75" fill="#0a0a0a" filter="url(#f9)" clip-path="url(#c7)"/>
<rect x="461.70" y="244.80" width="93.80" height="22.90" fill="#bababa"/>
<rect x="461.70" y="273.40" width="93.80" height="17.70" fill="#b2b2b2"/>
<rect x="461.70" y="297.20" width="93.80" height="24.10" fill="#aeaeae"/>
<rect x="461.70" y="327.00" width="93.80" height="20.40" fill="#b6b6b6"/>
<rect x="471.25" y="251.70" width="13.50" height="5.00" rx="2.50" fill="#262626" filter="url(#f10)" clip-path="url(#c8)"/>
<rect x="490.65" y="253.90" width="11.50" height="3.20" rx="1.60" fill="#a0a0a0" filter="url(#f10)" clip-path="url(#c8)"/>
<rect x="511.40" y="254.00" width="13.00" height="4.00" rx="2.00" fill="#8a8a8a" filter="url(#f10)" clip-path="url(#c8)"/>
<rect x="531.40" y="253.60" width="12.00" height="3.20" rx="1.60" fill="#a4a4a4" filter="url(#f10)" clip-path="url(#c8)"/>
<rect x="466.05" y="278.30" width="19.50" height="8.00" rx="4.00" fill="#0e0e0e" filter="url(#f9)" clip-path="url(#c9)"/>
<rect x="487.50" y="278.30" width="17.80" height="8.00" rx="4.00" fill="#0e0e0e" filter="url(#f9)" clip-path="url(#c9)"/>
<rect x="508.15" y="278.30" width="18.70" height="8.00" rx="4.00" fill="#0e0e0e" filter="url(#f9)" clip-path="url(#c9)"/>
<rect x="529.00" y="278.30" width="16.20" height="8.00" rx="4.00" fill="#0e0e0e" filter="url(#f9)" clip-path="url(#c9)"/>
<rect x="471.35" y="306.00" width="15.30" height="7.00" rx="3.50" fill="#0e0e0e" filter="url(#f9)" clip-path="url(#c10)"/>
<rect x="469.80" y="331.70" width="16.80" height="7.00" rx="3.50" fill="#0a0a0a" filter="url(#f9)" clip-path="url(#c11)"/>
<rect x="489.60" y="331.70" width="16.60" height="7.00" rx="3.50" fill="#0a0a0a" filter="url(#f9)" clip-path="url(#c11)"/>
<rect x="508.85" y="331.70" width="18.10" height="7.00" rx="3.50" fill="#0a0a0a" filter="url(#f9)" clip-path="url(#c11)"/>
<rect x="529.05" y="331.70" width="17.70" height="7.00" rx="3.50" fill="#0a0a0a" filter="url(#f9)" clip-path="url(#c11)"/>
<rect x="567.00" y="244.80" width="90.60" height="22.90" fill="#a6a6a6"/>
<rect x="567.00" y="273.80" width="90.60" height="17.50" fill="#b0b0b0"/>
<rect x="567.00" y="297.20" width="90.60" height="24.00" fill="#b2b2b2"/>
<rect x="567.00" y="326.70" width="90.60" height="20.90" fill="#b8b8b8"/>
<rect x="573.70" y="253.45" width="13.00" height="4.50" rx="2.25" fill="#3a3a3a" filter="url(#f10)" clip-path="url(#c12)"/>
<rect x="593.20" y="257.10" width="13.00" height="3.00" rx="1.50" fill="#949494" filter="url(#f10)" clip-path="url(#c12)"/>
<rect x="613.50" y="258.00" width="13.00" height="3.20" rx="1.60" fill="#8a8a8a" filter="url(#f10)" clip-path="url(#c12)"/>
<rect x="632.50" y="257.10" width="13.00" height="3.00" rx="1.50" fill="#909090" filter="url(#f10)" clip-path="url(#c12)"/>
<rect x="572.45" y="279.50" width="16.30" height="4.00" rx="2.00" fill="#151515" filter="url(#f8)" clip-path="url(#c13)"/>
<rect x="572.45" y="284.80" width="16.30" height="3.00" rx="1.50" fill="#555" filter="url(#f8)" clip-path="url(#c13)"/>
<rect x="593.15" y="279.50" width="15.30" height="4.00" rx="2.00" fill="#151515" filter="url(#f8)" clip-path="url(#c13)"/>
<rect x="593.15" y="284.80" width="15.30" height="3.00" rx="1.50" fill="#555" filter="url(#f8)" clip-path="url(#c13)"/>
<rect x="613.45" y="279.50" width="15.30" height="4.00" rx="2.00" fill="#151515" filter="url(#f8)" clip-path="url(#c13)"/>
<rect x="613.45" y="284.80" width="15.30" height="3.00" rx="1.50" fill="#555" filter="url(#f8)" clip-path="url(#c13)"/>
<rect x="633.95" y="279.50" width="15.30" height="4.00" rx="2.00" fill="#151515" filter="url(#f8)" clip-path="url(#c13)"/>
<rect x="633.95" y="284.80" width="15.30" height="3.00" rx="1.50" fill="#555" filter="url(#f8)" clip-path="url(#c13)"/>
<rect x="572.50" y="309.00" width="13.00" height="4.00" rx="2.00" fill="#505050" filter="url(#f10)" clip-path="url(#c14)"/>
<rect x="570.20" y="332.70" width="18.00" height="8.00" rx="4.00" fill="#0a0a0a" filter="url(#f9)" clip-path="url(#c15)"/>
<rect x="592.00" y="332.70" width="16.00" height="8.00" rx="4.00" fill="#0a0a0a" filter="url(#f9)" clip-path="url(#c15)"/>
<rect x="612.20" y="332.70" width="17.00" height="8.00" rx="4.00" fill="#0a0a0a" filter="url(#f9)" clip-path="url(#c15)"/>
<rect x="632.50" y="332.70" width="16.80" height="8.00" rx="4.00" fill="#0a0a0a" filter="url(#f9)" clip-path="url(#c15)"/>
<text x="356.00" y="261.50" font-size="12.5" text-anchor="end" fill="#000">250-</text>
<text x="356.00" y="284.80" font-size="12.5" text-anchor="end" fill="#000">110-</text>
<text x="356.00" y="313.00" font-size="12.5" text-anchor="end" fill="#000">110-</text>
<text x="356.00" y="343.80" font-size="12.5" text-anchor="end" fill="#000">55-</text>
<text x="664.00" y="259.30" font-size="12.5" text-anchor="start" fill="#000">BRCA1</text>
<text x="664.00" y="284.90" font-size="12.5" text-anchor="start" fill="#000">BARD1</text>
<text x="664.00" y="315.50" font-size="12.5" text-anchor="start" fill="#000">USP4</text>
<text x="664.00" y="340.50" font-size="12.5" text-anchor="start" fill="#000">Tubulin</text>
<text x="58.80" y="386.70" font-size="12.5" text-anchor="start" fill="#000">MCF-10A</text>
<line x1="53.20" y1="392.00" x2="127.50" y2="392.00" stroke="#333" stroke-width="1.2"/>
<text x="135.60" y="386.70" font-size="12.5" text-anchor="start" fill="#000">MDA-MB-231</text>
<line x1="133.60" y1="392.00" x2="209.50" y2="392.00" stroke="#333" stroke-width="1.2"/>
<text x="231.20" y="386.70" font-size="12.5" text-anchor="start" fill="#000">HeLa</text>
<line x1="214.40" y1="392.30" x2="288.70" y2="392.30" stroke="#333" stroke-width="1.2"/>
<line x1="57.35" y1="405.40" x2="63.65" y2="405.40" stroke="#000" stroke-width="1.2"/>
<line x1="60.50" y1="402.60" x2="60.50" y2="408.20" stroke="#000" stroke-width="1.2"/>
<line x1="75.95" y1="406.80" x2="83.45" y2="406.80" stroke="#111" stroke-width="1.35"/>
<line x1="92.55" y1="406.80" x2="100.05" y2="406.80" stroke="#111" stroke-width="1.35"/>
<line x1="112.55" y1="406.80" x2="120.05" y2="406.80" stroke="#111" stroke-width="1.35"/>
<line x1="56.75" y1="428.30" x2="64.25" y2="428.30" stroke="#111" stroke-width="1.35"/>
<line x1="76.55" y1="426.80" x2="82.85" y2="426.80" stroke="#000" stroke-width="1.2"/>
<line x1="79.70" y1="424.00" x2="79.70" y2="429.60" stroke="#000" stroke-width="1.2"/>
<line x1="93.15" y1="426.80" x2="99.45" y2="426.80" stroke="#000" stroke-width="1.2"/>
<line x1="96.30" y1="424.00" x2="96.30" y2="429.60" stroke="#000" stroke-width="1.2"/>
<line x1="113.15" y1="426.80" x2="119.45" y2="426.80" stroke="#000" stroke-width="1.2"/>
<line x1="116.30" y1="424.00" x2="116.30" y2="429.60" stroke="#000" stroke-width="1.2"/>
<line x1="56.75" y1="449.80" x2="64.25" y2="449.80" stroke="#111" stroke-width="1.35"/>
<line x1="75.95" y1="449.80" x2="83.45" y2="449.80" stroke="#111" stroke-width="1.35"/>
<line x1="139.35" y1="405.40" x2="145.65" y2="405.40" stroke="#000" stroke-width="1.2"/>
<line x1="142.50" y1="402.60" x2="142.50" y2="408.20" stroke="#000" stroke-width="1.2"/>
<line x1="157.75" y1="406.80" x2="165.25" y2="406.80" stroke="#111" stroke-width="1.35"/>
<line x1="174.05" y1="406.80" x2="181.55" y2="406.80" stroke="#111" stroke-width="1.35"/>
<line x1="194.25" y1="406.80" x2="201.75" y2="406.80" stroke="#111" stroke-width="1.35"/>
<line x1="138.75" y1="428.30" x2="146.25" y2="428.30" stroke="#111" stroke-width="1.35"/>
<line x1="158.35" y1="426.80" x2="164.65" y2="426.80" stroke="#000" stroke-width="1.2"/>
<line x1="161.50" y1="424.00" x2="161.50" y2="429.60" stroke="#000" stroke-width="1.2"/>
<line x1="174.65" y1="426.80" x2="180.95" y2="426.80" stroke="#000" stroke-width="1.2"/>
<line x1="177.80" y1="424.00" x2="177.80" y2="429.60" stroke="#000" stroke-width="1.2"/>
<line x1="194.85" y1="426.80" x2="201.15" y2="426.80" stroke="#000" stroke-width="1.2"/>
<line x1="198.00" y1="424.00" x2="198.00" y2="429.60" stroke="#000" stroke-width="1.2"/>
<line x1="138.75" y1="449.80" x2="146.25" y2="449.80" stroke="#111" stroke-width="1.35"/>
<line x1="157.75" y1="449.80" x2="165.25" y2="449.80" stroke="#111" stroke-width="1.35"/>
<line x1="218.85" y1="405.40" x2="225.15" y2="405.40" stroke="#000" stroke-width="1.2"/>
<line x1="222.00" y1="402.60" x2="222.00" y2="408.20" stroke="#000" stroke-width="1.2"/>
<line x1="236.55" y1="406.80" x2="244.05" y2="406.80" stroke="#111" stroke-width="1.35"/>
<line x1="254.05" y1="406.80" x2="261.55" y2="406.80" stroke="#111" stroke-width="1.35"/>
<line x1="275.55" y1="406.80" x2="283.05" y2="406.80" stroke="#111" stroke-width="1.35"/>
<line x1="218.25" y1="428.30" x2="225.75" y2="428.30" stroke="#111" stroke-width="1.35"/>
<line x1="237.15" y1="426.80" x2="243.45" y2="426.80" stroke="#000" stroke-width="1.2"/>
<line x1="240.30" y1="424.00" x2="240.30" y2="429.60" stroke="#000" stroke-width="1.2"/>
<line x1="254.65" y1="426.80" x2="260.95" y2="426.80" stroke="#000" stroke-width="1.2"/>
<line x1="257.80" y1="424.00" x2="257.80" y2="429.60" stroke="#000" stroke-width="1.2"/>
<line x1="276.15" y1="426.80" x2="282.45" y2="426.80" stroke="#000" stroke-width="1.2"/>
<line x1="279.30" y1="424.00" x2="279.30" y2="429.60" stroke="#000" stroke-width="1.2"/>
<line x1="218.25" y1="449.80" x2="225.75" y2="449.80" stroke="#111" stroke-width="1.35"/>
<line x1="236.55" y1="449.80" x2="244.05" y2="449.80" stroke="#111" stroke-width="1.35"/>
<text x="89.40" y="454.00" font-size="12.5" text-anchor="start" fill="#000">WT</text>
<text x="109.00" y="454.00" font-size="12.5" text-anchor="start" fill="#000">CA</text>
<text x="171.80" y="454.00" font-size="12.5" text-anchor="start" fill="#000">WT</text>
<text x="191.60" y="454.00" font-size="12.5" text-anchor="start" fill="#000">CA</text>
<text x="252.00" y="454.00" font-size="12.5" text-anchor="start" fill="#000">WT</text>
<text x="272.60" y="454.00" font-size="12.5" text-anchor="start" fill="#000">CA</text>
<text x="296.00" y="414.00" font-size="12.5" text-anchor="start" fill="#000">siCtrl</text>
<text x="296.00" y="433.20" font-size="12.5" text-anchor="start" fill="#000">siUSP4-UTR</text>
<text x="296.00" y="454.70" font-size="12.5" text-anchor="start" fill="#000">Flag-USP4</text>
<rect x="51.30" y="468.60" width="77.90" height="24.10" fill="#c4c4c4"/>
<rect x="131.50" y="468.60" width="81.40" height="24.10" fill="#c0c0c0"/>
<rect x="215.20" y="468.60" width="76.20" height="24.10" fill="#bcbcbc"/>
<rect x="51.30" y="497.90" width="77.90" height="23.60" fill="#c0c0c0"/>
<rect x="131.50" y="497.90" width="81.40" height="23.60" fill="#b8b8b8"/>
<rect x="215.20" y="497.90" width="76.20" height="23.60" fill="#b4b4b4"/>
<rect x="51.30" y="528.70" width="77.90" height="21.00" fill="#c4c4c4"/>
<rect x="131.50" y="528.70" width="81.40" height="21.00" fill="#c0c0c0"/>
<rect x="215.20" y="528.70" width="76.20" height="21.00" fill="#c0c0c0"/>
<rect x="51.30" y="557.40" width="77.90" height="20.20" fill="#c4c4c4"/>
<rect x="131.50" y="557.40" width="81.40" height="20.20" fill="#c2c2c2"/>
<rect x="215.20" y="557.40" width="76.20" height="20.20" fill="#c2c2c2"/>
<rect x="55.40" y="479.15" width="15.00" height="4.50" rx="2.25" fill="#2e2e2e" filter="url(#f10)" clip-path="url(#c16)"/>
<rect x="55.90" y="469.25" width="14.00" height="2.50" rx="1.25" fill="#9a9a9a" filter="url(#f9)" clip-path="url(#c16)"/>
<rect x="55.90" y="472.55" width="14.00" height="2.50" rx="1.25" fill="#8a8a8a" filter="url(#f9)" clip-path="url(#c16)"/>
<rect x="55.90" y="475.95" width="14.00" height="2.50" rx="1.25" fill="#909090" filter="url(#f9)" clip-path="url(#c16)"/>
<rect x="77.20" y="480.50" width="10.00" height="3.00" rx="1.50" fill="#a0a0a0" filter="url(#f10)" clip-path="url(#c16)"/>
<rect x="93.05" y="478.50" width="13.50" height="5.00" rx="2.50" fill="#1e1e1e" filter="url(#f10)" clip-path="url(#c16)"/>
<rect x="93.80" y="469.75" width="12.00" height="2.50" rx="1.25" fill="#a8a8a8" filter="url(#f9)" clip-path="url(#c16)"/>
<rect x="93.80" y="473.25" width="12.00" height="2.50" rx="1.25" fill="#9a9a9a" filter="url(#f9)" clip-path="url(#c16)"/>
<rect x="93.80" y="476.25" width="12.00" height="2.50" rx="1.25" fill="#a0a0a0" filter="url(#f9)" clip-path="url(#c16)"/>
<rect x="112.20" y="480.25" width="10.00" height="2.50" rx="1.25" fill="#b4b4b4" filter="url(#f10)" clip-path="url(#c16)"/>
<rect x="134.50" y="481.75" width="14.00" height="4.50" rx="2.25" fill="#303030" filter="url(#f10)" clip-path="url(#c17)"/>
<rect x="156.50" y="482.75" width="12.00" height="3.50" rx="1.75" fill="#6a6a6a" filter="url(#f10)" clip-path="url(#c17)"/>
<rect x="177.00" y="479.75" width="13.00" height="4.50" rx="2.25" fill="#2e2e2e" filter="url(#f10)" clip-path="url(#c17)"/>
<rect x="197.50" y="479.75" width="11.00" height="2.50" rx="1.25" fill="#b2b2b2" filter="url(#f10)" clip-path="url(#c17)"/>
<rect x="217.90" y="480.30" width="12.00" height="4.00" rx="2.00" fill="#4a4a4a" filter="url(#f10)" clip-path="url(#c18)"/>
<rect x="237.05" y="481.05" width="12.50" height="3.50" rx="1.75" fill="#7c7c7c" filter="url(#f10)" clip-path="url(#c18)"/>
<rect x="255.50" y="480.80" width="12.00" height="4.00" rx="2.00" fill="#4a4a4a" filter="url(#f10)" clip-path="url(#c18)"/>
<rect x="275.00" y="481.25" width="12.00" height="2.50" rx="1.25" fill="#aaaaaa" filter="url(#f10)" clip-path="url(#c18)"/>
<rect x="54.00" y="504.30" width="16.40" height="7.00" rx="3.50" fill="#0e0e0e" filter="url(#f9)" clip-path="url(#c19)"/>
<rect x="73.85" y="504.80" width="14.70" height="6.00" rx="3.00" fill="#0e0e0e" filter="url(#f9)" clip-path="url(#c19)"/>
<rect x="92.35" y="504.05" width="15.70" height="7.50" rx="3.75" fill="#0e0e0e" filter="url(#f9)" clip-path="url(#c19)"/>
<rect x="111.70" y="504.55" width="14.60" height="6.50" rx="3.25" fill="#0e0e0e" filter="url(#f9)" clip-path="url(#c19)"/>
<rect x="134.45" y="504.75" width="18.70" height="8.50" rx="4.25" fill="#0a0a0a" filter="url(#f9)" clip-path="url(#c20)"/>
<rect x="154.95" y="505.50" width="16.70" height="7.00" rx="3.50" fill="#0a0a0a" filter="url(#f9)" clip-path="url(#c20)"/>
<rect x="174.05" y="504.50" width="18.50" height="9.00" rx="4.50" fill="#0a0a0a" filter="url(#f9)" clip-path="url(#c20)"/>
<rect x="194.35" y="505.50" width="17.30" height="7.00" rx="3.50" fill="#0a0a0a" filter="url(#f9)" clip-path="url(#c20)"/>
<rect x="135.80" y="511.50" width="16.00" height="5.00" rx="2.50" fill="#151515" filter="url(#f10)" clip-path="url(#c20)"/>
<rect x="175.30" y="511.00" width="16.00" height="5.00" rx="2.50" fill="#222" filter="url(#f10)" clip-path="url(#c20)"/>
<rect x="156.30" y="511.50" width="14.00" height="3.00" rx="1.50" fill="#555" filter="url(#f10)" clip-path="url(#c20)"/>
<rect x="234.65" y="505.55" width="16.70" height="6.50" rx="3.25" fill="#0a0a0a" filter="url(#f9)" clip-path="url(#c21)"/>
<rect x="272.25" y="505.55" width="16.70" height="6.50" rx="3.25" fill="#0a0a0a" filter="url(#f9)" clip-path="url(#c21)"/>
<rect x="215.90" y="503.00" width="15.80" height="15.00" rx="5.00" fill="#0a0a0a" filter="url(#f10)" clip-path="url(#c21)"/>
<rect x="216.90" y="514.50" width="13.80" height="4.00" rx="2.00" fill="#2a2a2a" filter="url(#f10)" clip-path="url(#c21)"/>
<rect x="254.20" y="503.00" width="15.80" height="15.00" rx="5.00" fill="#0a0a0a" filter="url(#f10)" clip-path="url(#c21)"/>
<rect x="255.20" y="514.50" width="13.80" height="4.00" rx="2.00" fill="#2a2a2a" filter="url(#f10)" clip-path="url(#c21)"/>
<rect x="56.85" y="536.55" width="13.50" height="5.50" rx="2.75" fill="#121212" filter="url(#f9)" clip-path="url(#c22)"/>
<rect x="77.10" y="538.40" width="11.00" height="2.80" rx="1.40" fill="#7a7a7a" filter="url(#f10)" clip-path="url(#c22)"/>
<rect x="93.05" y="535.55" width="15.70" height="7.50" rx="3.75" fill="#0a0a0a" filter="url(#f9)" clip-path="url(#c22)"/>
<rect x="111.75" y="535.05" width="15.10" height="7.50" rx="3.75" fill="#0a0a0a" filter="url(#f9)" clip-path="url(#c22)"/>
<rect x="133.45" y="534.30" width="16.70" height="8.00" rx="4.00" fill="#0a0a0a" filter="url(#f9)" clip-path="url(#c23)"/>
<rect x="155.70" y="537.30" width="13.00" height="3.00" rx="1.50" fill="#6a6a6a" filter="url(#f10)" clip-path="url(#c23)"/>
<rect x="174.00" y="534.80" width="18.00" height="7.00" rx="3.50" fill="#0a0a0a" filter="url(#f9)" clip-path="url(#c23)"/>
<rect x="194.45" y="534.80" width="16.30" height="7.00" rx="3.50" fill="#0a0a0a" filter="url(#f9)" clip-path="url(#c23)"/>
<rect x="216.20" y="536.25" width="14.00" height="4.50" rx="2.25" fill="#181818" filter="url(#f9)" clip-path="url(#c24)"/>
<rect x="237.00" y="537.55" width="11.00" height="2.50" rx="1.25" fill="#a2a2a2" filter="url(#f10)" clip-path="url(#c24)"/>
<rect x="254.35" y="535.30" width="16.30" height="6.00" rx="3.00" fill="#0e0e0e" filter="url(#f9)" clip-path="url(#c24)"/>
<rect x="273.55" y="535.00" width="15.50" height="6.00" rx="3.00" fill="#0e0e0e" filter="url(#f9)" clip-path="url(#c24)"/>
<rect x="58.05" y="566.05" width="13.10" height="6.50" rx="3.25" fill="#0e0e0e" filter="url(#f9)" clip-path="url(#c25)"/>
<rect x="73.85" y="566.05" width="15.30" height="6.50" rx="3.25" fill="#0e0e0e" filter="url(#f9)" clip-path="url(#c25)"/>
<rect x="93.00" y="566.05" width="14.60" height="6.50" rx="3.25" fill="#0e0e0e" filter="url(#f9)" clip-path="url(#c25)"/>
<rect x="111.70" y="566.05" width="14.60" height="6.50" rx="3.25" fill="#0e0e0e" filter="url(#f9)" clip-path="url(#c25)"/>
<rect x="134.60" y="567.35" width="14.80" height="6.50" rx="3.25" fill="#0e0e0e" filter="url(#f9)" clip-path="url(#c26)"/>
<rect x="153.35" y="566.75" width="17.70" height="6.50" rx="3.25" fill="#0e0e0e" filter="url(#f9)" clip-path="url(#c26)"/>
<rect x="174.85" y="566.75" width="16.10" height="6.50" rx="3.25" fill="#0e0e0e" filter="url(#f9)" clip-path="url(#c26)"/>
<rect x="194.00" y="565.35" width="17.20" height="6.50" rx="3.25" fill="#0e0e0e" filter="url(#f9)" clip-path="url(#c26)"/>
<rect x="217.20" y="566.95" width="13.20" height="5.50" rx="2.75" fill="#111" filter="url(#f9)" clip-path="url(#c27)"/>
<rect x="234.75" y="566.95" width="15.30" height="5.50" rx="2.75" fill="#111" filter="url(#f9)" clip-path="url(#c27)"/>
<rect x="254.35" y="566.95" width="14.90" height="5.50" rx="2.75" fill="#111" filter="url(#f9)" clip-path="url(#c27)"/>
<rect x="272.25" y="566.95" width="15.50" height="5.50" rx="2.75" fill="#111" filter="url(#f9)" clip-path="url(#c27)"/>
<text x="50.70" y="486.10" font-size="12.5" text-anchor="end" fill="#000">250-</text>
<text x="50.70" y="513.00" font-size="12.5" text-anchor="end" fill="#000">110-</text>
<text x="50.70" y="544.80" font-size="12.5" text-anchor="end" fill="#000">110-</text>
<text x="50.70" y="574.80" font-size="12.5" text-anchor="end" fill="#000">55-</text>
<text x="296.90" y="487.00" font-size="12.5" text-anchor="start" fill="#000">BRCA1</text>
<text x="296.90" y="514.50" font-size="12.5" text-anchor="start" fill="#000">BARD1</text>
<text x="296.90" y="543.80" font-size="12.5" text-anchor="start" fill="#000">USP4</text>
<text x="296.90" y="574.50" font-size="12.5" text-anchor="start" fill="#000">Tubulin</text>
<text x="456.30" y="389.70" font-size="12.5" text-anchor="start" fill="#000">MCF-10A</text>
<line x1="422.90" y1="393.30" x2="532.00" y2="393.30" stroke="#333" stroke-width="1.2"/>
<text x="582.00" y="389.00" font-size="12.5" text-anchor="start" fill="#000">HeLa</text>
<line x1="537.60" y1="393.30" x2="646.60" y2="393.30" stroke="#333" stroke-width="1.2"/>
<line x1="437.45" y1="406.50" x2="443.75" y2="406.50" stroke="#000" stroke-width="1.2"/>
<line x1="440.60" y1="403.70" x2="440.60" y2="409.30" stroke="#000" stroke-width="1.2"/>
<line x1="455.85" y1="407.70" x2="463.35" y2="407.70" stroke="#111" stroke-width="1.35"/>
<line x1="474.45" y1="407.70" x2="481.95" y2="407.70" stroke="#111" stroke-width="1.35"/>
<line x1="493.45" y1="407.70" x2="500.95" y2="407.70" stroke="#111" stroke-width="1.35"/>
<line x1="513.45" y1="407.70" x2="520.95" y2="407.70" stroke="#111" stroke-width="1.35"/>
<line x1="436.85" y1="424.20" x2="444.35" y2="424.20" stroke="#111" stroke-width="1.35"/>
<line x1="456.45" y1="423.00" x2="462.75" y2="423.00" stroke="#000" stroke-width="1.2"/>
<line x1="459.60" y1="420.20" x2="459.60" y2="425.80" stroke="#000" stroke-width="1.2"/>
<line x1="475.05" y1="423.00" x2="481.35" y2="423.00" stroke="#000" stroke-width="1.2"/>
<line x1="478.20" y1="420.20" x2="478.20" y2="425.80" stroke="#000" stroke-width="1.2"/>
<line x1="493.45" y1="424.20" x2="500.95" y2="424.20" stroke="#111" stroke-width="1.35"/>
<line x1="513.45" y1="424.20" x2="520.95" y2="424.20" stroke="#111" stroke-width="1.35"/>
<line x1="436.85" y1="440.20" x2="444.35" y2="440.20" stroke="#111" stroke-width="1.35"/>
<line x1="455.85" y1="440.20" x2="463.35" y2="440.20" stroke="#111" stroke-width="1.35"/>
<line x1="474.45" y1="440.20" x2="481.95" y2="440.20" stroke="#111" stroke-width="1.35"/>
<line x1="494.05" y1="439.00" x2="500.35" y2="439.00" stroke="#000" stroke-width="1.2"/>
<line x1="497.20" y1="436.20" x2="497.20" y2="441.80" stroke="#000" stroke-width="1.2"/>
<line x1="514.05" y1="439.00" x2="520.35" y2="439.00" stroke="#000" stroke-width="1.2"/>
<line x1="517.20" y1="436.20" x2="517.20" y2="441.80" stroke="#000" stroke-width="1.2"/>
<line x1="436.85" y1="456.00" x2="444.35" y2="456.00" stroke="#111" stroke-width="1.35"/>
<line x1="455.85" y1="456.00" x2="463.35" y2="456.00" stroke="#111" stroke-width="1.35"/>
<line x1="475.05" y1="454.80" x2="481.35" y2="454.80" stroke="#000" stroke-width="1.2"/>
<line x1="478.20" y1="452.00" x2="478.20" y2="457.60" stroke="#000" stroke-width="1.2"/>
<line x1="493.45" y1="456.00" x2="500.95" y2="456.00" stroke="#111" stroke-width="1.35"/>
<line x1="514.05" y1="454.80" x2="520.35" y2="454.80" stroke="#000" stroke-width="1.2"/>
<line x1="517.20" y1="452.00" x2="517.20" y2="457.60" stroke="#000" stroke-width="1.2"/>
<line x1="550.95" y1="406.50" x2="557.25" y2="406.50" stroke="#000" stroke-width="1.2"/>
<line x1="554.10" y1="403.70" x2="554.10" y2="409.30" stroke="#000" stroke-width="1.2"/>
<line x1="569.35" y1="407.70" x2="576.85" y2="407.70" stroke="#111" stroke-width="1.35"/>
<line x1="588.35" y1="407.70" x2="595.85" y2="407.70" stroke="#111" stroke-width="1.35"/>
<line x1="607.35" y1="407.70" x2="614.85" y2="407.70" stroke="#111" stroke-width="1.35"/>
<line x1="627.15" y1="407.70" x2="634.65" y2="407.70" stroke="#111" stroke-width="1.35"/>
<line x1="550.35" y1="424.20" x2="557.85" y2="424.20" stroke="#111" stroke-width="1.35"/>
<line x1="569.95" y1="423.00" x2="576.25" y2="423.00" stroke="#000" stroke-width="1.2"/>
<line x1="573.10" y1="420.20" x2="573.10" y2="425.80" stroke="#000" stroke-width="1.2"/>
<line x1="588.95" y1="423.00" x2="595.25" y2="423.00" stroke="#000" stroke-width="1.2"/>
<line x1="592.10" y1="420.20" x2="592.10" y2="425.80" stroke="#000" stroke-width="1.2"/>
<line x1="607.35" y1="424.20" x2="614.85" y2="424.20" stroke="#111" stroke-width="1.35"/>
<line x1="627.15" y1="424.20" x2="634.65" y2="424.20" stroke="#111" stroke-width="1.35"/>
<line x1="550.35" y1="440.20" x2="557.85" y2="440.20" stroke="#111" stroke-width="1.35"/>
<line x1="569.35" y1="440.20" x2="576.85" y2="440.20" stroke="#111" stroke-width="1.35"/>
<line x1="588.35" y1="440.20" x2="595.85" y2="440.20" stroke="#111" stroke-width="1.35"/>
<line x1="607.95" y1="439.00" x2="614.25" y2="439.00" stroke="#000" stroke-width="1.2"/>
<line x1="611.10" y1="436.20" x2="611.10" y2="441.80" stroke="#000" stroke-width="1.2"/>
<line x1="627.75" y1="439.00" x2="634.05" y2="439.00" stroke="#000" stroke-width="1.2"/>
<line x1="630.90" y1="436.20" x2="630.90" y2="441.80" stroke="#000" stroke-width="1.2"/>
<line x1="550.35" y1="456.00" x2="557.85" y2="456.00" stroke="#111" stroke-width="1.35"/>
<line x1="569.35" y1="456.00" x2="576.85" y2="456.00" stroke="#111" stroke-width="1.35"/>
<line x1="588.95" y1="454.80" x2="595.25" y2="454.80" stroke="#000" stroke-width="1.2"/>
<line x1="592.10" y1="452.00" x2="592.10" y2="457.60" stroke="#000" stroke-width="1.2"/>
<line x1="607.35" y1="456.00" x2="614.85" y2="456.00" stroke="#111" stroke-width="1.35"/>
<line x1="627.75" y1="454.80" x2="634.05" y2="454.80" stroke="#000" stroke-width="1.2"/>
<line x1="630.90" y1="452.00" x2="630.90" y2="457.60" stroke="#000" stroke-width="1.2"/>
<text x="653.70" y="411.30" font-size="12.5" text-anchor="start" fill="#000">siCtrl</text>
<text x="653.70" y="427.30" font-size="12.5" text-anchor="start" fill="#000">siUSP4#1</text>
<text x="653.70" y="443.00" font-size="12.5" text-anchor="start" fill="#000">siUSP4#2</text>
<text x="653.70" y="459.50" font-size="12.5" text-anchor="start" fill="#000">MG132</text>
<rect x="422.50" y="465.60" width="112.70" height="25.90" fill="#c6c6c6"/>
<rect x="537.80" y="465.60" width="112.60" height="26.60" fill="#a8a8a8"/>
<rect x="422.50" y="508.50" width="112.70" height="21.80" fill="#c2c2c2"/>
<rect x="537.80" y="508.20" width="112.60" height="22.30" fill="#b8b8b8"/>
<rect x="422.50" y="535.50" width="112.70" height="25.90" fill="#c8c8c8"/>
<rect x="537.80" y="535.30" width="112.60" height="26.10" fill="#c0c0c0"/>
<rect x="422.50" y="565.90" width="112.70" height="22.50" fill="#c4c4c4"/>
<rect x="537.80" y="566.00" width="112.60" height="22.00" fill="#c0c0c0"/>
<rect x="437.10" y="480.25" width="12.00" height="4.50" rx="2.25" fill="#2e2e2e" filter="url(#f10)" clip-path="url(#c28)"/>
<rect x="454.10" y="481.40" width="13.00" height="3.20" rx="1.60" fill="#7a7a7a" filter="url(#f10)" clip-path="url(#c28)"/>
<rect x="472.60" y="480.00" width="13.40" height="5.00" rx="2.50" fill="#1c1c1c" filter="url(#f10)" clip-path="url(#c28)"/>
<rect x="492.00" y="481.50" width="12.00" height="3.00" rx="1.50" fill="#999" filter="url(#f10)" clip-path="url(#c28)"/>
<rect x="510.90" y="478.75" width="12.60" height="5.50" rx="2.75" fill="#111" filter="url(#f10)" clip-path="url(#c28)"/>
<rect x="550.25" y="480.05" width="12.70" height="4.50" rx="2.25" fill="#2a2a2a" filter="url(#f10)" clip-path="url(#c29)"/>
<rect x="568.00" y="481.05" width="14.00" height="3.50" rx="1.75" fill="#505050" filter="url(#f10)" clip-path="url(#c29)"/>
<rect x="587.75" y="480.05" width="13.70" height="4.50" rx="2.25" fill="#2a2a2a" filter="url(#f10)" clip-path="url(#c29)"/>
<rect x="606.10" y="481.50" width="13.00" height="3.00" rx="1.50" fill="#808080" filter="url(#f10)" clip-path="url(#c29)"/>
<rect x="625.05" y="477.05" width="14.50" height="5.50" rx="2.75" fill="#0e0e0e" filter="url(#f10)" clip-path="url(#c29)"/>
<text x="0" y="0" font-size="10.2" font-weight="bold" text-anchor="middle" transform="translate(442.80,503.57) scale(0.88,1)">1.0</text>
<text x="0" y="0" font-size="10.2" font-weight="bold" text-anchor="middle" transform="translate(461.80,503.57) scale(0.88,1)">0.5</text>
<text x="0" y="0" font-size="10.2" font-weight="bold" text-anchor="middle" transform="translate(480.40,503.57) scale(0.88,1)">1.2</text>
<text x="0" y="0" font-size="10.2" font-weight="bold" text-anchor="middle" transform="translate(499.40,503.57) scale(0.88,1)">0.4</text>
<text x="0" y="0" font-size="10.2" font-weight="bold" text-anchor="middle" transform="translate(519.40,503.57) scale(0.88,1)">1.2</text>
<text x="0" y="0" font-size="10.2" font-weight="bold" text-anchor="middle" transform="translate(556.60,502.17) scale(0.88,1)">1.0</text>
<text x="0" y="0" font-size="10.2" font-weight="bold" text-anchor="middle" transform="translate(575.60,502.17) scale(0.88,1)">0.7</text>
<text x="0" y="0" font-size="10.2" font-weight="bold" text-anchor="middle" transform="translate(594.60,502.17) scale(0.88,1)">0.9</text>
<text x="0" y="0" font-size="10.2" font-weight="bold" text-anchor="middle" transform="translate(613.60,502.17) scale(0.88,1)">0.4</text>
<text x="0" y="0" font-size="10.2" font-weight="bold" text-anchor="middle" transform="translate(633.40,502.17) scale(0.88,1)">1.1</text>
<text x="655.50" y="502.28" font-size="10.5" font-weight="bold" text-anchor="start" fill="#000">Fold</text>
<rect x="437.15" y="514.85" width="13.50" height="6.50" rx="3.25" fill="#0e0e0e" filter="url(#f9)" clip-path="url(#c30)"/>
<rect x="438.15" y="524.75" width="11.50" height="3.50" rx="1.75" fill="#7a7a7a" filter="url(#f10)" clip-path="url(#c30)"/>
<rect x="454.80" y="514.85" width="13.20" height="6.50" rx="3.25" fill="#0e0e0e" filter="url(#f9)" clip-path="url(#c30)"/>
<rect x="455.80" y="524.75" width="11.20" height="3.50" rx="1.75" fill="#7a7a7a" filter="url(#f10)" clip-path="url(#c30)"/>
<rect x="471.75" y="514.85" width="14.30" height="6.50" rx="3.25" fill="#0e0e0e" filter="url(#f9)" clip-path="url(#c30)"/>
<rect x="472.75" y="524.75" width="12.30" height="3.50" rx="1.75" fill="#7a7a7a" filter="url(#f10)" clip-path="url(#c30)"/>
<rect x="489.00" y="514.85" width="15.00" height="6.50" rx="3.25" fill="#0e0e0e" filter="url(#f9)" clip-path="url(#c30)"/>
<rect x="490.00" y="524.75" width="13.00" height="3.50" rx="1.75" fill="#7a7a7a" filter="url(#f10)" clip-path="url(#c30)"/>
<rect x="507.00" y="514.85" width="17.00" height="6.50" rx="3.25" fill="#0e0e0e" filter="url(#f9)" clip-path="url(#c30)"/>
<rect x="508.00" y="524.75" width="15.00" height="3.50" rx="1.75" fill="#7a7a7a" filter="url(#f10)" clip-path="url(#c30)"/>
<rect x="548.35" y="510.45" width="16.50" height="15.50" rx="4.00" fill="#080808" filter="url(#f10)" clip-path="url(#c31)"/>
<rect x="548.85" y="525.50" width="15.50" height="4.00" rx="2.00" fill="#333" filter="url(#f10)" clip-path="url(#c31)"/>
<rect x="567.15" y="510.45" width="16.50" height="15.50" rx="4.00" fill="#080808" filter="url(#f10)" clip-path="url(#c31)"/>
<rect x="567.65" y="525.50" width="15.50" height="4.00" rx="2.00" fill="#333" filter="url(#f10)" clip-path="url(#c31)"/>
<rect x="584.95" y="510.45" width="18.50" height="15.50" rx="4.00" fill="#080808" filter="url(#f10)" clip-path="url(#c31)"/>
<rect x="585.45" y="525.50" width="17.50" height="4.00" rx="2.00" fill="#333" filter="url(#f10)" clip-path="url(#c31)"/>
<rect x="603.30" y="510.45" width="17.00" height="15.50" rx="4.00" fill="#080808" filter="url(#f10)" clip-path="url(#c31)"/>
<rect x="603.80" y="525.50" width="16.00" height="4.00" rx="2.00" fill="#333" filter="url(#f10)" clip-path="url(#c31)"/>
<rect x="621.50" y="510.45" width="19.00" height="15.50" rx="4.00" fill="#080808" filter="url(#f10)" clip-path="url(#c31)"/>
<rect x="622.00" y="525.50" width="18.00" height="4.00" rx="2.00" fill="#333" filter="url(#f10)" clip-path="url(#c31)"/>
<rect x="437.25" y="545.15" width="11.30" height="4.50" rx="2.25" fill="#2a2a2a" filter="url(#f10)" clip-path="url(#c32)"/>
<rect x="438.40" y="557.75" width="9.00" height="2.50" rx="1.25" fill="#a8a8a8" filter="url(#f10)" clip-path="url(#c32)"/>
<rect x="549.75" y="542.90" width="13.70" height="5.00" rx="2.50" fill="#0e0e0e" filter="url(#f9)" clip-path="url(#c33)"/>
<rect x="550.60" y="551.80" width="12.00" height="3.00" rx="1.50" fill="#707070" filter="url(#f10)" clip-path="url(#c33)"/>
<rect x="569.90" y="553.05" width="11.00" height="2.50" rx="1.25" fill="#8a8a8a" filter="url(#f10)" clip-path="url(#c33)"/>
<rect x="588.70" y="553.05" width="11.00" height="2.50" rx="1.25" fill="#9a9a9a" filter="url(#f10)" clip-path="url(#c33)"/>
<rect x="606.30" y="553.05" width="11.00" height="2.50" rx="1.25" fill="#989898" filter="url(#f10)" clip-path="url(#c33)"/>
<rect x="625.50" y="553.05" width="11.00" height="2.50" rx="1.25" fill="#a8a8a8" filter="url(#f10)" clip-path="url(#c33)"/>
<rect x="437.20" y="574.80" width="16.80" height="7.00" rx="3.50" fill="#0a0a0a" filter="url(#f9)" clip-path="url(#c34)"/>
<rect x="455.15" y="574.80" width="16.50" height="7.00" rx="3.50" fill="#0a0a0a" filter="url(#f9)" clip-path="url(#c34)"/>
<rect x="472.60" y="574.80" width="16.40" height="7.00" rx="3.50" fill="#0a0a0a" filter="url(#f9)" clip-path="url(#c34)"/>
<rect x="490.00" y="574.80" width="16.00" height="7.00" rx="3.50" fill="#0a0a0a" filter="url(#f9)" clip-path="url(#c34)"/>
<rect x="506.95" y="574.80" width="16.50" height="7.00" rx="3.50" fill="#0a0a0a" filter="url(#f9)" clip-path="url(#c34)"/>
<rect x="550.80" y="573.10" width="13.40" height="6.00" rx="3.00" fill="#0e0e0e" filter="url(#f9)" clip-path="url(#c35)"/>
<rect x="566.80" y="573.10" width="15.20" height="6.00" rx="3.00" fill="#0e0e0e" filter="url(#f9)" clip-path="url(#c35)"/>
<rect x="585.30" y="573.10" width="15.20" height="6.00" rx="3.00" fill="#0e0e0e" filter="url(#f9)" clip-path="url(#c35)"/>
<rect x="603.50" y="573.10" width="15.20" height="6.00" rx="3.00" fill="#0e0e0e" filter="url(#f9)" clip-path="url(#c35)"/>
<rect x="621.80" y="573.10" width="14.20" height="6.00" rx="3.00" fill="#0e0e0e" filter="url(#f9)" clip-path="url(#c35)"/>
<text x="421.60" y="491.80" font-size="12.5" text-anchor="end" fill="#000">250-</text>
<text x="421.60" y="523.40" font-size="12.5" text-anchor="end" fill="#000">110-</text>
<text x="421.60" y="552.90" font-size="12.5" text-anchor="end" fill="#000">110-</text>
<text x="421.60" y="582.50" font-size="12.5" text-anchor="end" fill="#000">55-</text>
<text x="655.50" y="483.50" font-size="12.5" text-anchor="start" fill="#000">BRCA1</text>
<text x="655.50" y="522.80" font-size="12.5" text-anchor="start" fill="#000">BARD1</text>
<text x="655.50" y="553.20" font-size="12.5" text-anchor="start" fill="#000">USP4</text>
<text x="655.50" y="582.50" font-size="12.5" text-anchor="start" fill="#000">Tubulin</text>
<text x="93.80" y="631.10" font-size="12.5" text-anchor="start" fill="#000">Flag-Control</text>
<line x1="73.50" y1="638.80" x2="168.60" y2="638.80" stroke="#333" stroke-width="1.2"/>
<text x="193.10" y="630.90" font-size="12.5" text-anchor="start" fill="#000">Flag-USP4WT</text>
<line x1="176.90" y1="638.90" x2="271.60" y2="638.90" stroke="#333" stroke-width="1.2"/>
<text x="300.30" y="630.90" font-size="12.5" text-anchor="start" fill="#000">Flag-USP4CA</text>
<line x1="283.40" y1="638.90" x2="378.00" y2="638.90" stroke="#333" stroke-width="1.2"/>
<text x="26.10" y="652.70" font-size="12.5" text-anchor="start" fill="#000">CHX(hrs)</text>
<text x="86.20" y="655.20" font-size="12.5" text-anchor="middle" fill="#000">0</text>
<text x="104.00" y="655.20" font-size="12.5" text-anchor="middle" fill="#000">1</text>
<text x="122.50" y="655.20" font-size="12.5" text-anchor="middle" fill="#000">3</text>
<text x="138.20" y="655.20" font-size="12.5" text-anchor="middle" fill="#000">5</text>
<text x="154.20" y="655.20" font-size="12.5" text-anchor="middle" fill="#000">7</text>
<text x="189.70" y="655.20" font-size="12.5" text-anchor="middle" fill="#000">0</text>
<text x="206.70" y="655.20" font-size="12.5" text-anchor="middle" fill="#000">1</text>
<text x="224.90" y="655.20" font-size="12.5" text-anchor="middle" fill="#000">3</text>
<text x="241.10" y="655.20" font-size="12.5" text-anchor="middle" fill="#000">5</text>
<text x="258.00" y="655.20" font-size="12.5" text-anchor="middle" fill="#000">7</text>
<text x="295.90" y="655.20" font-size="12.5" text-anchor="middle" fill="#000">0</text>
<text x="313.80" y="655.20" font-size="12.5" text-anchor="middle" fill="#000">1</text>
<text x="331.70" y="655.20" font-size="12.5" text-anchor="middle" fill="#000">3</text>
<text x="347.60" y="655.20" font-size="12.5" text-anchor="middle" fill="#000">5</text>
<text x="363.90" y="655.20" font-size="12.5" text-anchor="middle" fill="#000">7</text>
<rect x="66.70" y="668.90" width="212.30" height="28.40" fill="#c2c2c2"/>
<rect x="280.60" y="668.90" width="104.30" height="28.40" fill="#c4c4c4"/>
<rect x="66.70" y="700.60" width="212.30" height="22.00" fill="#c0c0c0"/>
<rect x="280.60" y="700.60" width="104.30" height="22.00" fill="#ababab"/>
<rect x="66.70" y="726.40" width="212.30" height="27.90" fill="#c4c4c4"/>
<rect x="280.60" y="726.40" width="104.30" height="27.90" fill="#c4c4c4"/>
<rect x="66.70" y="758.40" width="212.30" height="29.60" fill="#c6c6c6"/>
<rect x="280.60" y="758.40" width="104.30" height="29.60" fill="#c6c6c6"/>
<rect x="81.00" y="675.20" width="12.00" height="3.20" rx="1.60" fill="#151515" filter="url(#f7)" clip-path="url(#c36)"/>
<rect x="81.50" y="680.05" width="11.00" height="2.50" rx="1.25" fill="#555" filter="url(#f9)" clip-path="url(#c36)"/>
<rect x="81.50" y="682.80" width="11.00" height="10.00" rx="5.00" fill="#a8a8a8" filter="url(#f15)" opacity="0.6" clip-path="url(#c36)"/>
<rect x="97.40" y="678.30" width="13.00" height="3.20" rx="1.60" fill="#151515" filter="url(#f7)" clip-path="url(#c36)"/>
<rect x="97.90" y="683.15" width="12.00" height="2.50" rx="1.25" fill="#4a4a4a" filter="url(#f9)" clip-path="url(#c36)"/>
<rect x="97.90" y="685.90" width="12.00" height="10.00" rx="5.00" fill="#a8a8a8" filter="url(#f15)" opacity="0.6" clip-path="url(#c36)"/>
<rect x="115.30" y="680.30" width="11.00" height="3.20" rx="1.60" fill="#222" filter="url(#f7)" clip-path="url(#c36)"/>
<rect x="115.80" y="685.15" width="10.00" height="2.50" rx="1.25" fill="#666" filter="url(#f9)" clip-path="url(#c36)"/>
<rect x="115.80" y="687.90" width="10.00" height="10.00" rx="5.00" fill="#a8a8a8" filter="url(#f15)" opacity="0.6" clip-path="url(#c36)"/>
<rect x="132.00" y="682.80" width="11.00" height="3.20" rx="1.60" fill="#8a8a8a" filter="url(#f7)" clip-path="url(#c36)"/>
<rect x="132.50" y="687.65" width="10.00" height="2.50" rx="1.25" fill="#a0a0a0" filter="url(#f9)" clip-path="url(#c36)"/>
<rect x="132.50" y="690.40" width="10.00" height="10.00" rx="5.00" fill="#a8a8a8" filter="url(#f15)" opacity="0.6" clip-path="url(#c36)"/>
<rect x="148.70" y="684.00" width="11.00" height="3.20" rx="1.60" fill="#a8a8a8" filter="url(#f7)" clip-path="url(#c36)"/>
<rect x="149.20" y="688.85" width="10.00" height="2.50" rx="1.25" fill="#b4b4b4" filter="url(#f9)" clip-path="url(#c36)"/>
<rect x="149.20" y="691.60" width="10.00" height="10.00" rx="5.00" fill="#a8a8a8" filter="url(#f15)" opacity="0.6" clip-path="url(#c36)"/>
<rect x="181.65" y="685.50" width="13.50" height="4.00" rx="2.00" fill="#111" filter="url(#f8)" clip-path="url(#c36)"/>
<rect x="199.55" y="684.60" width="13.50" height="4.00" rx="2.00" fill="#151515" filter="url(#f8)" clip-path="url(#c36)"/>
<rect x="216.95" y="683.80" width="12.50" height="4.00" rx="2.00" fill="#1e1e1e" filter="url(#f8)" clip-path="url(#c36)"/>
<rect x="234.55" y="683.30" width="11.50" height="4.00" rx="2.00" fill="#222" filter="url(#f8)" clip-path="url(#c36)"/>
<rect x="252.25" y="681.30" width="11.50" height="4.00" rx="2.00" fill="#222" filter="url(#f8)" clip-path="url(#c36)"/>
<rect x="181.65" y="690.15" width="13.50" height="3.50" rx="1.75" fill="#262626" filter="url(#f8)" clip-path="url(#c36)"/>
<rect x="182.15" y="694.20" width="12.50" height="2.80" rx="1.40" fill="#5a5a5a" filter="url(#f9)" clip-path="url(#c36)"/>
<rect x="199.80" y="689.65" width="13.00" height="3.50" rx="1.75" fill="#2e2e2e" filter="url(#f8)" clip-path="url(#c36)"/>
<rect x="200.30" y="693.80" width="12.00" height="2.80" rx="1.40" fill="#6a6a6a" filter="url(#f9)" clip-path="url(#c36)"/>
<rect x="217.20" y="689.00" width="12.00" height="3.00" rx="1.50" fill="#7a7a7a" filter="url(#f9)" clip-path="url(#c36)"/>
<rect x="234.80" y="688.55" width="11.00" height="2.50" rx="1.25" fill="#a0a0a0" filter="url(#f9)" clip-path="url(#c36)"/>
<rect x="253.00" y="686.50" width="10.00" height="2.00" rx="1.00" fill="#9a9a9a" filter="url(#f9)" clip-path="url(#c36)"/>
<rect x="291.00" y="683.15" width="12.00" height="3.50" rx="1.75" fill="#151515" filter="url(#f8)" clip-path="url(#c37)"/>
<rect x="307.95" y="683.15" width="11.50" height="3.50" rx="1.75" fill="#1a1a1a" filter="url(#f8)" clip-path="url(#c37)"/>
<rect x="324.05" y="683.15" width="10.50" height="3.50" rx="1.75" fill="#333" filter="url(#f8)" clip-path="url(#c37)"/>
<rect x="341.05" y="683.15" width="11.50" height="3.50" rx="1.75" fill="#999" filter="url(#f8)" clip-path="url(#c37)"/>
<rect x="358.65" y="683.15" width="9.50" height="3.50" rx="1.75" fill="#b4b4b4" filter="url(#f8)" clip-path="url(#c37)"/>
<rect x="291.50" y="687.25" width="11.00" height="2.50" rx="1.25" fill="#555" filter="url(#f9)" clip-path="url(#c37)"/>
<rect x="308.20" y="687.25" width="11.00" height="2.50" rx="1.25" fill="#666" filter="url(#f9)" clip-path="url(#c37)"/>
<rect x="291.50" y="691.00" width="11.00" height="6.00" rx="3.00" fill="#999" filter="url(#f12)" opacity="0.7" clip-path="url(#c37)"/>
<rect x="308.20" y="691.00" width="11.00" height="6.00" rx="3.00" fill="#a0a0a0" filter="url(#f12)" opacity="0.7" clip-path="url(#c37)"/>
<rect x="81.00" y="711.90" width="12.00" height="6.00" rx="3.00" fill="#0e0e0e" filter="url(#f9)" clip-path="url(#c38)"/>
<rect x="96.65" y="710.90" width="14.50" height="8.00" rx="4.00" fill="#0e0e0e" filter="url(#f9)" clip-path="url(#c38)"/>
<rect x="115.40" y="712.20" width="12.00" height="7.00" rx="3.50" fill="#0e0e0e" filter="url(#f9)" clip-path="url(#c38)"/>
<rect x="132.35" y="714.50" width="12.30" height="5.00" rx="2.50" fill="#0e0e0e" filter="url(#f9)" clip-path="url(#c38)"/>
<rect x="149.85" y="715.15" width="11.30" height="4.50" rx="2.25" fill="#0e0e0e" filter="url(#f9)" clip-path="url(#c38)"/>
<rect x="181.80" y="711.70" width="14.40" height="8.00" rx="4.00" fill="#0a0a0a" filter="url(#f9)" clip-path="url(#c38)"/>
<rect x="182.80" y="719.55" width="12.40" height="2.50" rx="1.25" fill="#999" filter="url(#f10)" clip-path="url(#c38)"/>
<rect x="199.00" y="711.70" width="13.60" height="7.00" rx="3.50" fill="#0a0a0a" filter="url(#f9)" clip-path="url(#c38)"/>
<rect x="200.00" y="719.55" width="11.60" height="2.50" rx="1.25" fill="#999" filter="url(#f10)" clip-path="url(#c38)"/>
<rect x="216.00" y="709.70" width="15.20" height="8.00" rx="4.00" fill="#0a0a0a" filter="url(#f9)" clip-path="url(#c38)"/>
<rect x="217.00" y="719.55" width="13.20" height="2.50" rx="1.25" fill="#999" filter="url(#f10)" clip-path="url(#c38)"/>
<rect x="234.95" y="709.40" width="12.70" height="8.00" rx="4.00" fill="#0a0a0a" filter="url(#f9)" clip-path="url(#c38)"/>
<rect x="235.95" y="719.55" width="10.70" height="2.50" rx="1.25" fill="#999" filter="url(#f10)" clip-path="url(#c38)"/>
<rect x="250.80" y="709.05" width="13.80" height="7.50" rx="3.75" fill="#0a0a0a" filter="url(#f9)" clip-path="url(#c38)"/>
<rect x="251.80" y="719.55" width="11.80" height="2.50" rx="1.25" fill="#999" filter="url(#f10)" clip-path="url(#c38)"/>
<rect x="288.90" y="706.50" width="14.00" height="10.00" rx="5.00" fill="#0a0a0a" filter="url(#f9)" clip-path="url(#c39)"/>
<rect x="306.95" y="708.50" width="13.30" height="6.00" rx="3.00" fill="#0a0a0a" filter="url(#f9)" clip-path="url(#c39)"/>
<rect x="325.35" y="708.50" width="12.50" height="6.00" rx="3.00" fill="#0a0a0a" filter="url(#f9)" clip-path="url(#c39)"/>
<rect x="342.30" y="707.50" width="14.20" height="8.00" rx="4.00" fill="#0a0a0a" filter="url(#f9)" clip-path="url(#c39)"/>
<rect x="360.25" y="707.50" width="13.10" height="8.00" rx="4.00" fill="#0a0a0a" filter="url(#f9)" clip-path="url(#c39)"/>
<rect x="289.90" y="718.75" width="12.00" height="2.50" rx="1.25" fill="#666" filter="url(#f10)" clip-path="url(#c39)"/>
<rect x="183.50" y="735.95" width="16.00" height="7.50" rx="3.75" fill="#080808" filter="url(#f9)" clip-path="url(#c40)"/>
<rect x="200.35" y="735.95" width="17.30" height="7.50" rx="3.75" fill="#080808" filter="url(#f9)" clip-path="url(#c40)"/>
<rect x="219.00" y="736.15" width="15.20" height="7.50" rx="3.75" fill="#080808" filter="url(#f9)" clip-path="url(#c40)"/>
<rect x="235.95" y="736.55" width="16.10" height="7.50" rx="3.75" fill="#080808" filter="url(#f9)" clip-path="url(#c40)"/>
<rect x="253.70" y="735.95" width="15.20" height="7.50" rx="3.75" fill="#080808" filter="url(#f9)" clip-path="url(#c40)"/>
<rect x="290.20" y="735.90" width="15.20" height="7.00" rx="3.50" fill="#080808" filter="url(#f9)" clip-path="url(#c41)"/>
<rect x="306.25" y="735.90" width="15.70" height="7.00" rx="3.50" fill="#080808" filter="url(#f9)" clip-path="url(#c41)"/>
<rect x="323.20" y="735.90" width="15.20" height="7.00" rx="3.50" fill="#080808" filter="url(#f9)" clip-path="url(#c41)"/>
<rect x="338.40" y="735.90" width="15.20" height="7.00" rx="3.50" fill="#080808" filter="url(#f9)" clip-path="url(#c41)"/>
<rect x="355.25" y="734.20" width="16.90" height="7.00" rx="3.50" fill="#080808" filter="url(#f9)" clip-path="url(#c41)"/>
<rect x="83.85" y="769.30" width="14.90" height="6.00" rx="3.00" fill="#0a0a0a" filter="url(#f9)" clip-path="url(#c42)"/>
<rect x="100.75" y="769.30" width="14.10" height="6.00" rx="3.00" fill="#0a0a0a" filter="url(#f9)" clip-path="url(#c42)"/>
<rect x="116.45" y="769.30" width="14.10" height="6.00" rx="3.00" fill="#0a0a0a" filter="url(#f9)" clip-path="url(#c42)"/>
<rect x="133.40" y="769.30" width="14.40" height="6.00" rx="3.00" fill="#0a0a0a" filter="url(#f9)" clip-path="url(#c42)"/>
<rect x="150.85" y="769.30" width="12.50" height="6.00" rx="3.00" fill="#0a0a0a" filter="url(#f9)" clip-path="url(#c42)"/>
<rect x="185.50" y="772.10" width="12.40" height="4.80" rx="2.40" fill="#0e0e0e" filter="url(#f9)" clip-path="url(#c42)"/>
<rect x="201.25" y="771.60" width="13.50" height="4.80" rx="2.40" fill="#0e0e0e" filter="url(#f9)" clip-path="url(#c42)"/>
<rect x="218.20" y="771.30" width="14.00" height="4.80" rx="2.40" fill="#0e0e0e" filter="url(#f9)" clip-path="url(#c42)"/>
<rect x="234.55" y="770.90" width="13.10" height="4.80" rx="2.40" fill="#0e0e0e" filter="url(#f9)" clip-path="url(#c42)"/>
<rect x="250.80" y="769.60" width="13.80" height="4.80" rx="2.40" fill="#0e0e0e" filter="url(#f9)" clip-path="url(#c42)"/>
<rect x="288.45" y="771.20" width="13.50" height="4.80" rx="2.40" fill="#0e0e0e" filter="url(#f9)" clip-path="url(#c43)"/>
<rect x="305.35" y="770.40" width="13.90" height="4.80" rx="2.40" fill="#0e0e0e" filter="url(#f9)" clip-path="url(#c43)"/>
<rect x="322.70" y="770.40" width="14.00" height="4.80" rx="2.40" fill="#0e0e0e" filter="url(#f9)" clip-path="url(#c43)"/>
<rect x="339.60" y="770.40" width="14.00" height="4.80" rx="2.40" fill="#0e0e0e" filter="url(#f9)" clip-path="url(#c43)"/>
<rect x="357.00" y="769.40" width="15.20" height="4.80" rx="2.40" fill="#0e0e0e" filter="url(#f9)" clip-path="url(#c43)"/>
<text x="66.00" y="686.10" font-size="12.5" text-anchor="end" fill="#000">250-</text>
<text x="66.00" y="717.30" font-size="12.5" text-anchor="end" fill="#000">110-</text>
<text x="66.00" y="749.00" font-size="12.5" text-anchor="end" fill="#000">110-</text>
<text x="66.00" y="780.70" font-size="12.5" text-anchor="end" fill="#000">55-</text>
<text x="390.60" y="688.10" font-size="12.5" text-anchor="start" fill="#000">BRCA1</text>
<text x="390.60" y="716.00" font-size="12.5" text-anchor="start" fill="#000">BARD1</text>
<text x="390.60" y="746.10" font-size="12.5" text-anchor="start" fill="#000">Flag</text>
<text x="390.60" y="776.80" font-size="12.5" text-anchor="start" fill="#000">Tubulin</text>
<text x="105.20" y="829.90" font-size="12.5" text-anchor="start" fill="#000">sh-Ctrl</text>
<line x1="72.30" y1="837.00" x2="167.30" y2="837.00" stroke="#333" stroke-width="1.2"/>
<text x="202.90" y="829.90" font-size="12.5" text-anchor="start" fill="#000">shUSP4-1</text>
<line x1="176.90" y1="836.80" x2="271.60" y2="836.80" stroke="#333" stroke-width="1.2"/>
<text x="308.70" y="829.90" font-size="12.5" text-anchor="start" fill="#000">shUSP4-2</text>
<line x1="283.40" y1="836.80" x2="377.40" y2="836.80" stroke="#333" stroke-width="1.2"/>
<text x="26.10" y="851.50" font-size="12.5" text-anchor="start" fill="#000">CHX(hrs)</text>
<text x="85.70" y="852.80" font-size="12.5" text-anchor="middle" fill="#000">0</text>
<text x="102.70" y="852.80" font-size="12.5" text-anchor="middle" fill="#000">1</text>
<text x="121.20" y="852.80" font-size="12.5" text-anchor="middle" fill="#000">3</text>
<text x="137.00" y="852.80" font-size="12.5" text-anchor="middle" fill="#000">5</text>
<text x="153.40" y="852.80" font-size="12.5" text-anchor="middle" fill="#000">7</text>
<text x="188.70" y="852.80" font-size="12.5" text-anchor="middle" fill="#000">0</text>
<text x="206.30" y="852.80" font-size="12.5" text-anchor="middle" fill="#000">1</text>
<text x="224.20" y="852.80" font-size="12.5" text-anchor="middle" fill="#000">3</text>
<text x="241.10" y="852.80" font-size="12.5" text-anchor="middle" fill="#000">5</text>
<text x="257.40" y="852.80" font-size="12.5" text-anchor="middle" fill="#000">7</text>
<text x="295.20" y="852.80" font-size="12.5" text-anchor="middle" fill="#000">0</text>
<text x="313.10" y="852.80" font-size="12.5" text-anchor="middle" fill="#000">1</text>
<text x="331.40" y="852.80" font-size="12.5" text-anchor="middle" fill="#000">3</text>
<text x="347.00" y="852.80" font-size="12.5" text-anchor="middle" fill="#000">5</text>
<text x="363.90" y="852.80" font-size="12.5" text-anchor="middle" fill="#000">7</text>
<rect x="67.00" y="861.90" width="212.00" height="30.70" fill="#bebebe"/>
<rect x="281.20" y="861.90" width="104.80" height="30.70" fill="#c6c6c6"/>
<rect x="67.00" y="896.40" width="212.00" height="29.40" fill="#bcbcbc"/>
<rect x="281.20" y="896.40" width="104.80" height="29.40" fill="#bcbcbc"/>
<rect x="67.00" y="929.90" width="212.00" height="27.70" fill="#c2c2c2"/>
<rect x="281.20" y="929.90" width="104.80" height="27.70" fill="#c4c4c4"/>
<rect x="67.00" y="965.40" width="212.00" height="24.80" fill="#c0c0c0"/>
<rect x="281.20" y="965.40" width="104.80" height="24.80" fill="#c4c4c4"/>
<rect x="77.25" y="873.00" width="11.50" height="10.00" rx="2.50" fill="#202020" filter="url(#f10)" clip-path="url(#c44)"/>
<rect x="77.75" y="877.90" width="10.50" height="1.20" rx="0.60" fill="#404040" filter="url(#f7)" clip-path="url(#c44)"/>
<rect x="77.25" y="883.00" width="11.50" height="7.00" rx="3.50" fill="#666" filter="url(#f16)" opacity="0.7" clip-path="url(#c44)"/>
<rect x="94.00" y="872.80" width="12.40" height="10.00" rx="2.50" fill="#1c1c1c" filter="url(#f10)" clip-path="url(#c44)"/>
<rect x="94.50" y="877.70" width="11.40" height="1.20" rx="0.60" fill="#404040" filter="url(#f7)" clip-path="url(#c44)"/>
<rect x="94.00" y="882.80" width="12.40" height="7.00" rx="3.50" fill="#666" filter="url(#f16)" opacity="0.7" clip-path="url(#c44)"/>
<rect x="113.00" y="873.80" width="12.00" height="10.00" rx="2.50" fill="#1c1c1c" filter="url(#f10)" clip-path="url(#c44)"/>
<rect x="113.50" y="878.70" width="11.00" height="1.20" rx="0.60" fill="#404040" filter="url(#f7)" clip-path="url(#c44)"/>
<rect x="113.00" y="883.80" width="12.00" height="7.00" rx="3.50" fill="#666" filter="url(#f16)" opacity="0.7" clip-path="url(#c44)"/>
<rect x="131.00" y="876.50" width="11.00" height="7.00" rx="2.50" fill="#2c2c2c" filter="url(#f10)" clip-path="url(#c44)"/>
<rect x="131.50" y="879.90" width="10.00" height="1.20" rx="0.60" fill="#404040" filter="url(#f7)" clip-path="url(#c44)"/>
<rect x="131.00" y="883.50" width="11.00" height="7.00" rx="3.50" fill="#666" filter="url(#f16)" opacity="0.7" clip-path="url(#c44)"/>
<rect x="148.70" y="878.80" width="11.00" height="5.00" rx="2.50" fill="#444" filter="url(#f10)" clip-path="url(#c44)"/>
<rect x="149.20" y="881.20" width="10.00" height="1.20" rx="0.60" fill="#404040" filter="url(#f7)" clip-path="url(#c44)"/>
<rect x="148.70" y="883.80" width="11.00" height="7.00" rx="3.50" fill="#666" filter="url(#f16)" opacity="0.7" clip-path="url(#c44)"/>
<rect x="183.20" y="880.75" width="11.80" height="3.50" rx="1.75" fill="#505050" filter="url(#f9)" clip-path="url(#c44)"/>
<rect x="183.20" y="884.50" width="11.80" height="3.00" rx="1.50" fill="#505050" filter="url(#f9)" clip-path="url(#c44)"/>
<rect x="201.75" y="880.75" width="11.30" height="3.50" rx="1.75" fill="#5a5a5a" filter="url(#f9)" clip-path="url(#c44)"/>
<rect x="201.75" y="884.50" width="11.30" height="3.00" rx="1.50" fill="#5a5a5a" filter="url(#f9)" clip-path="url(#c44)"/>
<rect x="219.30" y="880.75" width="11.20" height="3.50" rx="1.75" fill="#a0a0a0" filter="url(#f9)" clip-path="url(#c44)"/>
<rect x="219.30" y="884.50" width="11.20" height="3.00" rx="1.50" fill="#a0a0a0" filter="url(#f9)" clip-path="url(#c44)"/>
<rect x="236.80" y="880.75" width="11.20" height="3.50" rx="1.75" fill="#aaaaaa" filter="url(#f9)" clip-path="url(#c44)"/>
<rect x="236.80" y="884.50" width="11.20" height="3.00" rx="1.50" fill="#aaaaaa" filter="url(#f9)" clip-path="url(#c44)"/>
<rect x="253.70" y="880.75" width="11.80" height="3.50" rx="1.75" fill="#acacac" filter="url(#f9)" clip-path="url(#c44)"/>
<rect x="253.70" y="884.50" width="11.80" height="3.00" rx="1.50" fill="#acacac" filter="url(#f9)" clip-path="url(#c44)"/>
<line x1="254" y1="876.5" x2="265" y2="873.2" stroke="#888" stroke-width="0.9"/>
<rect x="289.90" y="878.50" width="11.80" height="3.00" rx="1.50" fill="#7a7a7a" filter="url(#f9)" clip-path="url(#c45)"/>
<rect x="289.90" y="883.00" width="11.80" height="3.00" rx="1.50" fill="#7a7a7a" filter="url(#f9)" clip-path="url(#c45)"/>
<rect x="307.15" y="878.50" width="11.50" height="3.00" rx="1.50" fill="#8a8a8a" filter="url(#f9)" clip-path="url(#c45)"/>
<rect x="307.15" y="883.00" width="11.50" height="3.00" rx="1.50" fill="#8a8a8a" filter="url(#f9)" clip-path="url(#c45)"/>
<rect x="324.90" y="878.50" width="11.80" height="3.00" rx="1.50" fill="#b0b0b0" filter="url(#f9)" clip-path="url(#c45)"/>
<rect x="324.90" y="883.00" width="11.80" height="3.00" rx="1.50" fill="#b0b0b0" filter="url(#f9)" clip-path="url(#c45)"/>
<rect x="76.50" y="905.90" width="11.80" height="4.00" rx="2.00" fill="#333" filter="url(#f9)" clip-path="url(#c46)"/>
<rect x="93.70" y="905.65" width="13.60" height="4.50" rx="2.25" fill="#2a2a2a" filter="url(#f9)" clip-path="url(#c46)"/>
<rect x="113.20" y="905.15" width="12.60" height="5.50" rx="2.75" fill="#111" filter="url(#f9)" clip-path="url(#c46)"/>
<rect x="131.00" y="904.90" width="13.40" height="6.00" rx="3.00" fill="#0e0e0e" filter="url(#f9)" clip-path="url(#c46)"/>
<rect x="149.20" y="905.40" width="11.80" height="5.00" rx="2.50" fill="#2a2a2a" filter="url(#f9)" clip-path="url(#c46)"/>
<rect x="184.45" y="907.00" width="13.50" height="5.00" rx="2.50" fill="#222" filter="url(#f9)" clip-path="url(#c46)"/>
<rect x="202.45" y="907.00" width="12.90" height="5.00" rx="2.50" fill="#2a2a2a" filter="url(#f9)" clip-path="url(#c46)"/>
<rect x="219.90" y="907.00" width="14.00" height="5.00" rx="2.50" fill="#4a4a4a" filter="url(#f9)" clip-path="url(#c46)"/>
<rect x="238.45" y="907.00" width="11.90" height="5.00" rx="2.50" fill="#5a5a5a" filter="url(#f9)" clip-path="url(#c46)"/>
<rect x="256.20" y="907.00" width="11.80" height="5.00" rx="2.50" fill="#5a5a5a" filter="url(#f9)" clip-path="url(#c46)"/>
<rect x="289.90" y="905.65" width="13.00" height="4.50" rx="2.25" fill="#1e1e1e" filter="url(#f9)" clip-path="url(#c47)"/>
<rect x="306.85" y="905.65" width="13.50" height="4.50" rx="2.25" fill="#2a2a2a" filter="url(#f9)" clip-path="url(#c47)"/>
<rect x="324.45" y="905.65" width="13.50" height="4.50" rx="2.25" fill="#3a3a3a" filter="url(#f9)" clip-path="url(#c47)"/>
<rect x="342.60" y="905.65" width="11.80" height="4.50" rx="2.25" fill="#3e3e3e" filter="url(#f9)" clip-path="url(#c47)"/>
<rect x="359.25" y="905.65" width="12.10" height="4.50" rx="2.25" fill="#3a3a3a" filter="url(#f9)" clip-path="url(#c47)"/>
<rect x="78.15" y="939.45" width="13.90" height="5.50" rx="2.75" fill="#141414" filter="url(#f9)" clip-path="url(#c48)"/>
<rect x="95.80" y="939.45" width="16.20" height="5.50" rx="2.75" fill="#0e0e0e" filter="url(#f9)" clip-path="url(#c48)"/>
<rect x="116.00" y="939.45" width="14.60" height="5.50" rx="2.75" fill="#121212" filter="url(#f9)" clip-path="url(#c48)"/>
<rect x="134.05" y="939.45" width="15.50" height="5.50" rx="2.75" fill="#141414" filter="url(#f9)" clip-path="url(#c48)"/>
<rect x="153.65" y="939.45" width="14.70" height="5.50" rx="2.75" fill="#383838" filter="url(#f9)" clip-path="url(#c48)"/>
<rect x="185.50" y="940.70" width="11.00" height="2.00" rx="1.00" fill="#adadad" filter="url(#f10)" clip-path="url(#c48)"/>
<rect x="202.50" y="940.70" width="11.00" height="2.00" rx="1.00" fill="#adadad" filter="url(#f10)" clip-path="url(#c48)"/>
<rect x="220.50" y="940.70" width="11.00" height="2.00" rx="1.00" fill="#adadad" filter="url(#f10)" clip-path="url(#c48)"/>
<rect x="238.50" y="940.70" width="11.00" height="2.00" rx="1.00" fill="#adadad" filter="url(#f10)" clip-path="url(#c48)"/>
<rect x="256.50" y="940.70" width="11.00" height="2.00" rx="1.00" fill="#adadad" filter="url(#f10)" clip-path="url(#c48)"/>
<rect x="290.50" y="939.25" width="11.00" height="2.50" rx="1.25" fill="#adadad" filter="url(#f10)" clip-path="url(#c49)"/>
<rect x="308.00" y="939.25" width="11.00" height="2.50" rx="1.25" fill="#a8a8a8" filter="url(#f10)" clip-path="url(#c49)"/>
<rect x="326.00" y="939.25" width="11.00" height="2.50" rx="1.25" fill="#9e9e9e" filter="url(#f10)" clip-path="url(#c49)"/>
<rect x="343.50" y="939.25" width="11.00" height="2.50" rx="1.25" fill="#9c9c9c" filter="url(#f10)" clip-path="url(#c49)"/>
<rect x="360.50" y="939.25" width="11.00" height="2.50" rx="1.25" fill="#a8a8a8" filter="url(#f10)" clip-path="url(#c49)"/>
<rect x="78.80" y="978.00" width="15.20" height="6.00" rx="3.00" fill="#080808" filter="url(#f9)" clip-path="url(#c50)"/>
<rect x="96.30" y="978.00" width="16.40" height="6.00" rx="3.00" fill="#080808" filter="url(#f9)" clip-path="url(#c50)"/>
<rect x="114.00" y="976.70" width="15.20" height="6.00" rx="3.00" fill="#080808" filter="url(#f9)" clip-path="url(#c50)"/>
<rect x="130.55" y="975.80" width="16.90" height="6.00" rx="3.00" fill="#080808" filter="url(#f9)" clip-path="url(#c50)"/>
<rect x="149.20" y="978.00" width="16.80" height="6.00" rx="3.00" fill="#080808" filter="url(#f9)" clip-path="url(#c50)"/>
<rect x="183.50" y="977.25" width="17.80" height="6.50" rx="3.25" fill="#080808" filter="url(#f9)" clip-path="url(#c50)"/>
<rect x="201.25" y="977.05" width="16.90" height="6.50" rx="3.25" fill="#080808" filter="url(#f9)" clip-path="url(#c50)"/>
<rect x="218.20" y="977.55" width="16.80" height="6.50" rx="3.25" fill="#080808" filter="url(#f9)" clip-path="url(#c50)"/>
<rect x="234.95" y="977.05" width="15.30" height="6.50" rx="3.25" fill="#080808" filter="url(#f9)" clip-path="url(#c50)"/>
<rect x="252.80" y="975.55" width="15.60" height="6.50" rx="3.25" fill="#080808" filter="url(#f9)" clip-path="url(#c50)"/>
<rect x="289.40" y="973.85" width="16.40" height="6.50" rx="3.25" fill="#080808" filter="url(#f9)" clip-path="url(#c51)"/>
<rect x="306.75" y="973.85" width="15.50" height="6.50" rx="3.25" fill="#080808" filter="url(#f9)" clip-path="url(#c51)"/>
<rect x="323.20" y="973.85" width="16.80" height="6.50" rx="3.25" fill="#080808" filter="url(#f9)" clip-path="url(#c51)"/>
<rect x="340.00" y="973.85" width="15.80" height="6.50" rx="3.25" fill="#080808" filter="url(#f9)" clip-path="url(#c51)"/>
<rect x="357.00" y="973.85" width="16.00" height="6.50" rx="3.25" fill="#080808" filter="url(#f9)" clip-path="url(#c51)"/>
<text x="67.00" y="886.20" font-size="12.5" text-anchor="end" fill="#000">250-</text>
<text x="67.00" y="920.80" font-size="12.5" text-anchor="end" fill="#000">110-</text>
<text x="67.00" y="950.90" font-size="12.5" text-anchor="end" fill="#000">110-</text>
<text x="67.00" y="987.20" font-size="12.5" text-anchor="end" fill="#000">55-</text>
<text x="392.30" y="881.10" font-size="12.5" text-anchor="start" fill="#000">BRCA1</text>
<text x="392.30" y="915.40" font-size="12.5" text-anchor="start" fill="#000">BARD1</text>
<text x="392.30" y="946.30" font-size="12.5" text-anchor="start" fill="#000">USP4</text>
<text x="392.30" y="980.80" font-size="12.5" text-anchor="start" fill="#000">Tubulin</text>
<line x1="515.50" y1="637.30" x2="515.50" y2="771.10" stroke="#000" stroke-width="1.5"/>
<line x1="514.80" y1="770.40" x2="700.60" y2="770.40" stroke="#000" stroke-width="1.5"/>
<line x1="511.30" y1="770.40" x2="515.50" y2="770.40" stroke="#000" stroke-width="1.1"/>
<line x1="513.10" y1="763.82" x2="515.50" y2="763.82" stroke="#000" stroke-width="1.1"/>
<line x1="513.10" y1="757.24" x2="515.50" y2="757.24" stroke="#000" stroke-width="1.1"/>
<line x1="513.10" y1="750.66" x2="515.50" y2="750.66" stroke="#000" stroke-width="1.1"/>
<line x1="513.10" y1="744.08" x2="515.50" y2="744.08" stroke="#000" stroke-width="1.1"/>
<line x1="513.10" y1="737.50" x2="515.50" y2="737.50" stroke="#000" stroke-width="1.1"/>
<line x1="513.10" y1="730.92" x2="515.50" y2="730.92" stroke="#000" stroke-width="1.1"/>
<line x1="513.10" y1="724.34" x2="515.50" y2="724.34" stroke="#000" stroke-width="1.1"/>
<line x1="513.10" y1="717.76" x2="515.50" y2="717.76" stroke="#000" stroke-width="1.1"/>
<line x1="513.10" y1="711.18" x2="515.50" y2="711.18" stroke="#000" stroke-width="1.1"/>
<line x1="511.30" y1="704.60" x2="515.50" y2="704.60" stroke="#000" stroke-width="1.1"/>
<line x1="513.10" y1="698.02" x2="515.50" y2="698.02" stroke="#000" stroke-width="1.1"/>
<line x1="513.10" y1="691.44" x2="515.50" y2="691.44" stroke="#000" stroke-width="1.1"/>
<line x1="513.10" y1="684.86" x2="515.50" y2="684.86" stroke="#000" stroke-width="1.1"/>
<line x1="513.10" y1="678.28" x2="515.50" y2="678.28" stroke="#000" stroke-width="1.1"/>
<line x1="513.10" y1="671.70" x2="515.50" y2="671.70" stroke="#000" stroke-width="1.1"/>
<line x1="513.10" y1="665.12" x2="515.50" y2="665.12" stroke="#000" stroke-width="1.1"/>
<line x1="513.10" y1="658.54" x2="515.50" y2="658.54" stroke="#000" stroke-width="1.1"/>
<line x1="513.10" y1="651.96" x2="515.50" y2="651.96" stroke="#000" stroke-width="1.1"/>
<line x1="513.10" y1="645.38" x2="515.50" y2="645.38" stroke="#000" stroke-width="1.1"/>
<line x1="511.30" y1="638.80" x2="515.50" y2="638.80" stroke="#000" stroke-width="1.1"/>
<line x1="515.50" y1="770.40" x2="515.50" y2="774.60" stroke="#000" stroke-width="1.3"/>
<text x="515.50" y="785.90" font-size="8.6" font-weight="bold" text-anchor="middle" fill="#000">0</text>
<line x1="561.60" y1="770.40" x2="561.60" y2="774.60" stroke="#000" stroke-width="1.3"/>
<text x="561.60" y="785.90" font-size="8.6" font-weight="bold" text-anchor="middle" fill="#000">2</text>
<line x1="607.70" y1="770.40" x2="607.70" y2="774.60" stroke="#000" stroke-width="1.3"/>
<text x="607.70" y="785.90" font-size="8.6" font-weight="bold" text-anchor="middle" fill="#000">4</text>
<line x1="653.80" y1="770.40" x2="653.80" y2="774.60" stroke="#000" stroke-width="1.3"/>
<text x="653.80" y="785.90" font-size="8.6" font-weight="bold" text-anchor="middle" fill="#000">6</text>
<line x1="699.90" y1="770.40" x2="699.90" y2="774.60" stroke="#000" stroke-width="1.3"/>
<text x="699.90" y="785.90" font-size="8.6" font-weight="bold" text-anchor="middle" fill="#000">8</text>
<text x="509.90" y="773.75" font-size="8.2" font-weight="bold" text-anchor="end" fill="#000">0</text>
<text x="509.90" y="707.95" font-size="8.2" font-weight="bold" text-anchor="end" fill="#000">50</text>
<text x="509.90" y="642.15" font-size="8.2" font-weight="bold" text-anchor="end" fill="#000">100</text>
<text x="0" y="0" font-size="8.5" font-weight="bold" text-anchor="middle" transform="translate(490.30,706.10) rotate(-90)">BRCA1 Level<tspan dx="2.5">(</tspan><tspan dx="2">%</tspan><tspan dx="2">)</tspan></text>
<text x="608.85" y="802.43" font-size="9.8" font-weight="bold" text-anchor="middle" fill="#000">CHX treatment (hrs)</text>
<polyline points="515.50,638.80 538.55,652.35 584.65,676.31 630.75,699.34 676.85,701.57" fill="none" stroke="#ff2a2a" stroke-width="1.0"/>
<polyline points="515.50,638.80 538.55,675.25 584.65,693.55 630.75,724.73 676.85,741.45" fill="none" stroke="#000" stroke-width="1.0"/>
<polyline points="515.50,638.80 538.55,668.67 584.65,691.05 630.75,725.92 676.85,746.71" fill="none" stroke="#2323ff" stroke-width="1.0"/>
<rect x="513.00" y="636.30" width="5" height="5" fill="#ff2a2a"/>
<line x1="538.55" y1="641.17" x2="538.55" y2="663.54" stroke="#ff2a2a" stroke-width="1.0"/>
<line x1="535.75" y1="641.17" x2="541.35" y2="641.17" stroke="#ff2a2a" stroke-width="1.0"/>
<line x1="535.75" y1="663.54" x2="541.35" y2="663.54" stroke="#ff2a2a" stroke-width="1.0"/>
<rect x="536.05" y="649.85" width="5" height="5" fill="#ff2a2a"/>
<line x1="584.65" y1="667.09" x2="584.65" y2="685.52" stroke="#ff2a2a" stroke-width="1.0"/>
<line x1="581.85" y1="667.09" x2="587.45" y2="667.09" stroke="#ff2a2a" stroke-width="1.0"/>
<line x1="581.85" y1="685.52" x2="587.45" y2="685.52" stroke="#ff2a2a" stroke-width="1.0"/>
<rect x="582.15" y="673.81" width="5" height="5" fill="#ff2a2a"/>
<line x1="630.75" y1="690.65" x2="630.75" y2="708.02" stroke="#ff2a2a" stroke-width="1.0"/>
<line x1="627.95" y1="690.65" x2="633.55" y2="690.65" stroke="#ff2a2a" stroke-width="1.0"/>
<line x1="627.95" y1="708.02" x2="633.55" y2="708.02" stroke="#ff2a2a" stroke-width="1.0"/>
<rect x="628.25" y="696.84" width="5" height="5" fill="#ff2a2a"/>
<line x1="676.85" y1="691.05" x2="676.85" y2="712.10" stroke="#ff2a2a" stroke-width="1.0"/>
<line x1="674.05" y1="691.05" x2="679.65" y2="691.05" stroke="#ff2a2a" stroke-width="1.0"/>
<line x1="674.05" y1="712.10" x2="679.65" y2="712.10" stroke="#ff2a2a" stroke-width="1.0"/>
<rect x="674.35" y="699.07" width="5" height="5" fill="#ff2a2a"/>
<path d="M515.50,635.80 L518.40,641.00 L512.60,641.00 Z" fill="#000"/>
<line x1="538.55" y1="664.73" x2="538.55" y2="685.78" stroke="#000" stroke-width="1.0"/>
<line x1="535.75" y1="664.73" x2="541.35" y2="664.73" stroke="#000" stroke-width="1.0"/>
<line x1="535.75" y1="685.78" x2="541.35" y2="685.78" stroke="#000" stroke-width="1.0"/>
<path d="M538.55,672.25 L541.45,677.45 L535.65,677.45 Z" fill="#000"/>
<line x1="584.65" y1="684.33" x2="584.65" y2="702.76" stroke="#000" stroke-width="1.0"/>
<line x1="581.85" y1="684.33" x2="587.45" y2="684.33" stroke="#000" stroke-width="1.0"/>
<line x1="581.85" y1="702.76" x2="587.45" y2="702.76" stroke="#000" stroke-width="1.0"/>
<path d="M584.65,690.55 L587.55,695.75 L581.75,695.75 Z" fill="#000"/>
<line x1="630.75" y1="717.50" x2="630.75" y2="731.97" stroke="#000" stroke-width="1.0"/>
<line x1="627.95" y1="717.50" x2="633.55" y2="717.50" stroke="#000" stroke-width="1.0"/>
<line x1="627.95" y1="731.97" x2="633.55" y2="731.97" stroke="#000" stroke-width="1.0"/>
<path d="M630.75,721.73 L633.65,726.93 L627.85,726.93 Z" fill="#000"/>
<line x1="676.85" y1="730.92" x2="676.85" y2="751.98" stroke="#000" stroke-width="1.0"/>
<line x1="674.05" y1="730.92" x2="679.65" y2="730.92" stroke="#000" stroke-width="1.0"/>
<line x1="674.05" y1="751.98" x2="679.65" y2="751.98" stroke="#000" stroke-width="1.0"/>
<path d="M676.85,738.45 L679.75,743.65 L673.95,743.65 Z" fill="#000"/>
<circle cx="515.50" cy="638.80" r="2.7" fill="#2323ff"/>
<line x1="538.55" y1="662.09" x2="538.55" y2="675.25" stroke="#2323ff" stroke-width="1.0"/>
<line x1="535.75" y1="662.09" x2="541.35" y2="662.09" stroke="#2323ff" stroke-width="1.0"/>
<line x1="535.75" y1="675.25" x2="541.35" y2="675.25" stroke="#2323ff" stroke-width="1.0"/>
<circle cx="538.55" cy="668.67" r="2.7" fill="#2323ff"/>
<line x1="584.65" y1="684.47" x2="584.65" y2="697.63" stroke="#2323ff" stroke-width="1.0"/>
<line x1="581.85" y1="684.47" x2="587.45" y2="684.47" stroke="#2323ff" stroke-width="1.0"/>
<line x1="581.85" y1="697.63" x2="587.45" y2="697.63" stroke="#2323ff" stroke-width="1.0"/>
<circle cx="584.65" cy="691.05" r="2.7" fill="#2323ff"/>
<line x1="630.75" y1="719.34" x2="630.75" y2="732.50" stroke="#2323ff" stroke-width="1.0"/>
<line x1="627.95" y1="719.34" x2="633.55" y2="719.34" stroke="#2323ff" stroke-width="1.0"/>
<line x1="627.95" y1="732.50" x2="633.55" y2="732.50" stroke="#2323ff" stroke-width="1.0"/>
<circle cx="630.75" cy="725.92" r="2.7" fill="#2323ff"/>
<line x1="676.85" y1="737.50" x2="676.85" y2="755.92" stroke="#2323ff" stroke-width="1.0"/>
<line x1="674.05" y1="737.50" x2="679.65" y2="737.50" stroke="#2323ff" stroke-width="1.0"/>
<line x1="674.05" y1="755.92" x2="679.65" y2="755.92" stroke="#2323ff" stroke-width="1.0"/>
<circle cx="676.85" cy="746.71" r="2.7" fill="#2323ff"/>
<line x1="533.50" y1="734.40" x2="546.50" y2="734.40" stroke="#2323ff" stroke-width="1.0"/>
<circle cx="540.00" cy="734.40" r="2.7" fill="#2323ff"/>
<text x="553.80" y="737.39" font-size="8.3" font-weight="bold" text-anchor="start" fill="#000">Flag-Control</text>
<line x1="533.50" y1="748.50" x2="546.50" y2="748.50" stroke="#ff2a2a" stroke-width="1.0"/>
<rect x="537.50" y="746.00" width="5" height="5" fill="#ff2a2a"/>
<text x="553.80" y="751.49" font-size="8.3" font-weight="bold" text-anchor="start" fill="#000">Flag-USP4WT</text>
<line x1="533.50" y1="762.60" x2="546.50" y2="762.60" stroke="#000" stroke-width="1.0"/>
<path d="M540.00,759.60 L542.90,764.80 L537.10,764.80 Z" fill="#000"/>
<text x="553.80" y="765.59" font-size="8.3" font-weight="bold" text-anchor="start" fill="#000">Flag-USP4CA</text>
<text x="685.00" y="710.44" font-size="12" font-weight="bold" text-anchor="start" fill="#000">**</text>
<line x1="515.30" y1="831.50" x2="515.30" y2="964.70" stroke="#000" stroke-width="1.5"/>
<line x1="514.60" y1="964.00" x2="699.20" y2="964.00" stroke="#000" stroke-width="1.5"/>
<line x1="511.10" y1="964.00" x2="515.30" y2="964.00" stroke="#000" stroke-width="1.1"/>
<line x1="512.90" y1="957.45" x2="515.30" y2="957.45" stroke="#000" stroke-width="1.1"/>
<line x1="512.90" y1="950.90" x2="515.30" y2="950.90" stroke="#000" stroke-width="1.1"/>
<line x1="512.90" y1="944.35" x2="515.30" y2="944.35" stroke="#000" stroke-width="1.1"/>
<line x1="512.90" y1="937.80" x2="515.30" y2="937.80" stroke="#000" stroke-width="1.1"/>
<line x1="512.90" y1="931.25" x2="515.30" y2="931.25" stroke="#000" stroke-width="1.1"/>
<line x1="512.90" y1="924.70" x2="515.30" y2="924.70" stroke="#000" stroke-width="1.1"/>
<line x1="512.90" y1="918.15" x2="515.30" y2="918.15" stroke="#000" stroke-width="1.1"/>
<line x1="512.90" y1="911.60" x2="515.30" y2="911.60" stroke="#000" stroke-width="1.1"/>
<line x1="512.90" y1="905.05" x2="515.30" y2="905.05" stroke="#000" stroke-width="1.1"/>
<line x1="511.10" y1="898.50" x2="515.30" y2="898.50" stroke="#000" stroke-width="1.1"/>
<line x1="512.90" y1="891.95" x2="515.30" y2="891.95" stroke="#000" stroke-width="1.1"/>
<line x1="512.90" y1="885.40" x2="515.30" y2="885.40" stroke="#000" stroke-width="1.1"/>
<line x1="512.90" y1="878.85" x2="515.30" y2="878.85" stroke="#000" stroke-width="1.1"/>
<line x1="512.90" y1="872.30" x2="515.30" y2="872.30" stroke="#000" stroke-width="1.1"/>
<line x1="512.90" y1="865.75" x2="515.30" y2="865.75" stroke="#000" stroke-width="1.1"/>
<line x1="512.90" y1="859.20" x2="515.30" y2="859.20" stroke="#000" stroke-width="1.1"/>
<line x1="512.90" y1="852.65" x2="515.30" y2="852.65" stroke="#000" stroke-width="1.1"/>
<line x1="512.90" y1="846.10" x2="515.30" y2="846.10" stroke="#000" stroke-width="1.1"/>
<line x1="512.90" y1="839.55" x2="515.30" y2="839.55" stroke="#000" stroke-width="1.1"/>
<line x1="511.10" y1="833.00" x2="515.30" y2="833.00" stroke="#000" stroke-width="1.1"/>
<line x1="515.30" y1="964.00" x2="515.30" y2="968.20" stroke="#000" stroke-width="1.3"/>
<text x="515.30" y="979.60" font-size="8.6" font-weight="bold" text-anchor="middle" fill="#000">0</text>
<line x1="561.10" y1="964.00" x2="561.10" y2="968.20" stroke="#000" stroke-width="1.3"/>
<text x="561.10" y="979.60" font-size="8.6" font-weight="bold" text-anchor="middle" fill="#000">2</text>
<line x1="606.90" y1="964.00" x2="606.90" y2="968.20" stroke="#000" stroke-width="1.3"/>
<text x="606.90" y="979.60" font-size="8.6" font-weight="bold" text-anchor="middle" fill="#000">4</text>
<line x1="652.70" y1="964.00" x2="652.70" y2="968.20" stroke="#000" stroke-width="1.3"/>
<text x="652.70" y="979.60" font-size="8.6" font-weight="bold" text-anchor="middle" fill="#000">6</text>
<line x1="698.50" y1="964.00" x2="698.50" y2="968.20" stroke="#000" stroke-width="1.3"/>
<text x="698.50" y="979.60" font-size="8.6" font-weight="bold" text-anchor="middle" fill="#000">8</text>
<text x="509.70" y="967.35" font-size="8.2" font-weight="bold" text-anchor="end" fill="#000">0</text>
<text x="509.70" y="901.85" font-size="8.2" font-weight="bold" text-anchor="end" fill="#000">50</text>
<text x="509.70" y="836.35" font-size="8.2" font-weight="bold" text-anchor="end" fill="#000">100</text>
<text x="0" y="0" font-size="8.5" font-weight="bold" text-anchor="middle" transform="translate(490.30,900.00) rotate(-90)">BRCA1 Level<tspan dx="2.5">(</tspan><tspan dx="2">%</tspan><tspan dx="2">)</tspan></text>
<text x="608.04" y="996.13" font-size="9.8" font-weight="bold" text-anchor="middle" fill="#000">CHX treatment (hrs)</text>
<polyline points="515.30,833.00 538.20,878.33 584.00,907.15 629.80,938.59 675.60,949.59" fill="none" stroke="#ff2a2a" stroke-width="1.9"/>
<polyline points="515.30,833.00 538.20,873.48 584.00,924.70 629.80,943.17 675.60,956.27" fill="none" stroke="#000" stroke-width="1.0"/>
<polyline points="515.30,833.00 538.20,846.10 584.00,856.97 629.80,863.13 675.60,897.19" fill="none" stroke="#2323ff" stroke-width="1.0"/>
<rect x="512.80" y="830.50" width="5" height="5" fill="#ff2a2a"/>
<line x1="538.20" y1="870.47" x2="538.20" y2="886.19" stroke="#ff2a2a" stroke-width="1.0"/>
<line x1="535.40" y1="870.47" x2="541.00" y2="870.47" stroke="#ff2a2a" stroke-width="1.0"/>
<line x1="535.40" y1="886.19" x2="541.00" y2="886.19" stroke="#ff2a2a" stroke-width="1.0"/>
<rect x="535.70" y="875.83" width="5" height="5" fill="#ff2a2a"/>
<line x1="584.00" y1="890.12" x2="584.00" y2="924.18" stroke="#ff2a2a" stroke-width="1.0"/>
<line x1="581.20" y1="890.12" x2="586.80" y2="890.12" stroke="#ff2a2a" stroke-width="1.0"/>
<line x1="581.20" y1="924.18" x2="586.80" y2="924.18" stroke="#ff2a2a" stroke-width="1.0"/>
<rect x="581.50" y="904.65" width="5" height="5" fill="#ff2a2a"/>
<line x1="629.80" y1="930.73" x2="629.80" y2="946.45" stroke="#ff2a2a" stroke-width="1.0"/>
<line x1="627.00" y1="930.73" x2="632.60" y2="930.73" stroke="#ff2a2a" stroke-width="1.0"/>
<line x1="627.00" y1="946.45" x2="632.60" y2="946.45" stroke="#ff2a2a" stroke-width="1.0"/>
<rect x="627.30" y="936.09" width="5" height="5" fill="#ff2a2a"/>
<line x1="675.60" y1="944.35" x2="675.60" y2="954.83" stroke="#ff2a2a" stroke-width="1.0"/>
<line x1="672.80" y1="944.35" x2="678.40" y2="944.35" stroke="#ff2a2a" stroke-width="1.0"/>
<line x1="672.80" y1="954.83" x2="678.40" y2="954.83" stroke="#ff2a2a" stroke-width="1.0"/>
<rect x="673.10" y="947.09" width="5" height="5" fill="#ff2a2a"/>
<path d="M515.30,830.00 L518.20,835.20 L512.40,835.20 Z" fill="#000"/>
<line x1="538.20" y1="856.45" x2="538.20" y2="890.51" stroke="#000" stroke-width="1.0"/>
<line x1="535.40" y1="856.45" x2="541.00" y2="856.45" stroke="#000" stroke-width="1.0"/>
<line x1="535.40" y1="890.51" x2="541.00" y2="890.51" stroke="#000" stroke-width="1.0"/>
<path d="M538.20,870.48 L541.10,875.68 L535.30,875.68 Z" fill="#000"/>
<line x1="584.00" y1="918.15" x2="584.00" y2="931.25" stroke="#000" stroke-width="1.0"/>
<line x1="581.20" y1="918.15" x2="586.80" y2="918.15" stroke="#000" stroke-width="1.0"/>
<line x1="581.20" y1="931.25" x2="586.80" y2="931.25" stroke="#000" stroke-width="1.0"/>
<path d="M584.00,921.70 L586.90,926.90 L581.10,926.90 Z" fill="#000"/>
<line x1="629.80" y1="935.97" x2="629.80" y2="950.38" stroke="#000" stroke-width="1.0"/>
<line x1="627.00" y1="935.97" x2="632.60" y2="935.97" stroke="#000" stroke-width="1.0"/>
<line x1="627.00" y1="950.38" x2="632.60" y2="950.38" stroke="#000" stroke-width="1.0"/>
<path d="M629.80,940.17 L632.70,945.37 L626.90,945.37 Z" fill="#000"/>
<line x1="675.60" y1="949.72" x2="675.60" y2="962.82" stroke="#000" stroke-width="1.0"/>
<line x1="672.80" y1="949.72" x2="678.40" y2="949.72" stroke="#000" stroke-width="1.0"/>
<line x1="672.80" y1="962.82" x2="678.40" y2="962.82" stroke="#000" stroke-width="1.0"/>
<path d="M675.60,953.27 L678.50,958.47 L672.70,958.47 Z" fill="#000"/>
<circle cx="515.30" cy="833.00" r="2.7" fill="#2323ff"/>
<line x1="538.20" y1="842.17" x2="538.20" y2="850.03" stroke="#2323ff" stroke-width="1.0"/>
<line x1="535.40" y1="842.17" x2="541.00" y2="842.17" stroke="#2323ff" stroke-width="1.0"/>
<line x1="535.40" y1="850.03" x2="541.00" y2="850.03" stroke="#2323ff" stroke-width="1.0"/>
<circle cx="538.20" cy="846.10" r="2.7" fill="#2323ff"/>
<line x1="584.00" y1="852.39" x2="584.00" y2="861.56" stroke="#2323ff" stroke-width="1.0"/>
<line x1="581.20" y1="852.39" x2="586.80" y2="852.39" stroke="#2323ff" stroke-width="1.0"/>
<line x1="581.20" y1="861.56" x2="586.80" y2="861.56" stroke="#2323ff" stroke-width="1.0"/>
<circle cx="584.00" cy="856.97" r="2.7" fill="#2323ff"/>
<line x1="629.80" y1="859.20" x2="629.80" y2="867.06" stroke="#2323ff" stroke-width="1.0"/>
<line x1="627.00" y1="859.20" x2="632.60" y2="859.20" stroke="#2323ff" stroke-width="1.0"/>
<line x1="627.00" y1="867.06" x2="632.60" y2="867.06" stroke="#2323ff" stroke-width="1.0"/>
<circle cx="629.80" cy="863.13" r="2.7" fill="#2323ff"/>
<line x1="675.60" y1="891.95" x2="675.60" y2="902.43" stroke="#2323ff" stroke-width="1.0"/>
<line x1="672.80" y1="891.95" x2="678.40" y2="891.95" stroke="#2323ff" stroke-width="1.0"/>
<line x1="672.80" y1="902.43" x2="678.40" y2="902.43" stroke="#2323ff" stroke-width="1.0"/>
<circle cx="675.60" cy="897.19" r="2.7" fill="#2323ff"/>
<line x1="533.30" y1="927.70" x2="546.30" y2="927.70" stroke="#2323ff" stroke-width="1.0"/>
<circle cx="539.80" cy="927.70" r="2.7" fill="#2323ff"/>
<text x="553.60" y="930.69" font-size="8.3" font-weight="bold" text-anchor="start" fill="#000">shCtrl</text>
<line x1="533.30" y1="941.00" x2="546.30" y2="941.00" stroke="#ff2a2a" stroke-width="1.9"/>
<rect x="537.30" y="938.50" width="5" height="5" fill="#ff2a2a"/>
<text x="553.60" y="943.99" font-size="8.3" font-weight="bold" text-anchor="start" fill="#000">shUSP4-1</text>
<line x1="533.30" y1="955.10" x2="546.30" y2="955.10" stroke="#000" stroke-width="1.0"/>
<path d="M539.80,952.10 L542.70,957.30 L536.90,957.30 Z" fill="#000"/>
<text x="553.60" y="958.09" font-size="8.3" font-weight="bold" text-anchor="start" fill="#000">shUSP4-2</text>
<text x="682.40" y="957.84" font-size="12" font-weight="bold" text-anchor="start" fill="#000">****</text>
<text x="682.40" y="966.84" font-size="12" font-weight="bold" text-anchor="start" fill="#000">****</text>
</svg>
</body></html>
